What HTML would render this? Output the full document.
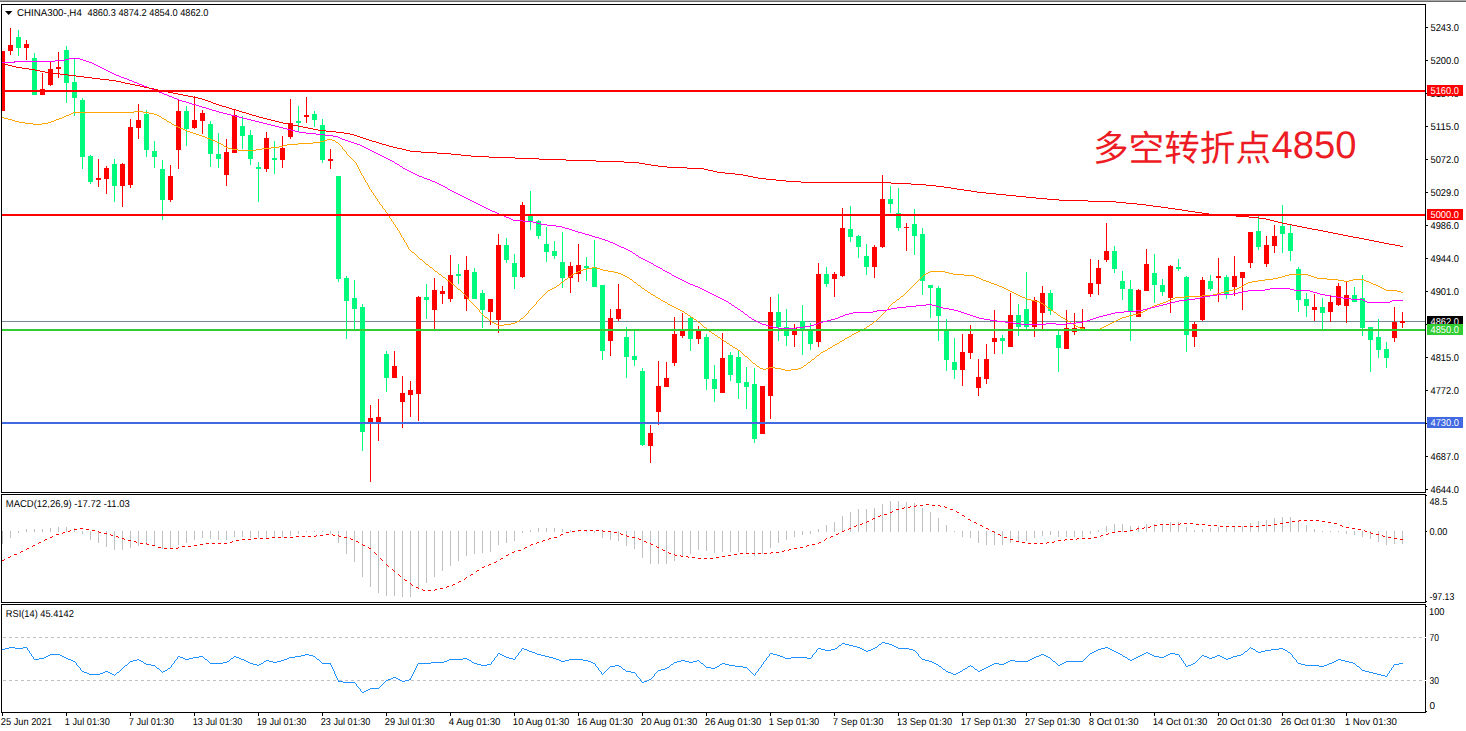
<!DOCTYPE html>
<html><head><meta charset="utf-8"><title>CHINA300-,H4</title>
<style>html,body{margin:0;padding:0;background:#fff;}body{width:1466px;height:731px;overflow:hidden;font-family:"Liberation Sans",sans-serif;}svg{display:block;}text{font-family:"Liberation Sans",sans-serif;text-rendering:geometricPrecision;}</style></head><body>
<svg width="1466" height="731" viewBox="0 0 1466 731">
<rect x="0" y="0" width="1466" height="731" fill="#fff"/>
<g shape-rendering="crispEdges">
<rect x="0" y="0" width="1466" height="1" fill="#A8A8A8"/>
<rect x="0" y="1" width="1466" height="1" fill="#686868"/>
<rect x="2" y="321" width="1423" height="1" fill="#778899"/>
<rect x="2" y="51" width="1" height="60" fill="#FF0000"/>
<rect x="2" y="51" width="3" height="60" fill="#FF0000"/>
<rect x="10" y="28" width="1" height="27" fill="#FF0000"/>
<rect x="8" y="45" width="5" height="6" fill="#FF0000"/>
<rect x="18" y="30" width="1" height="26" fill="#00FA7D"/>
<rect x="16" y="37" width="5" height="11" fill="#00FA7D"/>
<rect x="26" y="40" width="1" height="20" fill="#FF0000"/>
<rect x="24" y="44" width="5" height="4" fill="#FF0000"/>
<rect x="34" y="53" width="1" height="42" fill="#00FA7D"/>
<rect x="32" y="58" width="5" height="37" fill="#00FA7D"/>
<rect x="42" y="73" width="1" height="22" fill="#FF0000"/>
<rect x="40" y="89" width="5" height="6" fill="#FF0000"/>
<rect x="50" y="62" width="1" height="24" fill="#FF0000"/>
<rect x="48" y="69" width="5" height="16" fill="#FF0000"/>
<rect x="58" y="52" width="1" height="26" fill="#FF0000"/>
<rect x="56" y="67" width="5" height="2" fill="#FF0000"/>
<rect x="66" y="46" width="1" height="57" fill="#00FA7D"/>
<rect x="64" y="50" width="5" height="33" fill="#00FA7D"/>
<rect x="74" y="59" width="1" height="57" fill="#00FA7D"/>
<rect x="72" y="82" width="5" height="16" fill="#00FA7D"/>
<rect x="82" y="98" width="1" height="71" fill="#00FA7D"/>
<rect x="80" y="100" width="5" height="57" fill="#00FA7D"/>
<rect x="90" y="155" width="1" height="29" fill="#00FA7D"/>
<rect x="88" y="156" width="5" height="26" fill="#00FA7D"/>
<rect x="98" y="159" width="1" height="28" fill="#FF0000"/>
<rect x="96" y="178" width="5" height="2" fill="#FF0000"/>
<rect x="106" y="166" width="1" height="28" fill="#FF0000"/>
<rect x="104" y="168" width="5" height="11" fill="#FF0000"/>
<rect x="114" y="159" width="1" height="43" fill="#00FA7D"/>
<rect x="112" y="164" width="5" height="22" fill="#00FA7D"/>
<rect x="122" y="163" width="1" height="44" fill="#FF0000"/>
<rect x="120" y="164" width="5" height="22" fill="#FF0000"/>
<rect x="130" y="119" width="1" height="69" fill="#FF0000"/>
<rect x="128" y="127" width="5" height="58" fill="#FF0000"/>
<rect x="138" y="104" width="1" height="35" fill="#FF0000"/>
<rect x="136" y="120" width="5" height="8" fill="#FF0000"/>
<rect x="146" y="110" width="1" height="47" fill="#00FA7D"/>
<rect x="144" y="114" width="5" height="36" fill="#00FA7D"/>
<rect x="154" y="141" width="1" height="27" fill="#00FA7D"/>
<rect x="152" y="151" width="5" height="6" fill="#00FA7D"/>
<rect x="162" y="160" width="1" height="60" fill="#00FA7D"/>
<rect x="160" y="169" width="5" height="31" fill="#00FA7D"/>
<rect x="170" y="165" width="1" height="37" fill="#FF0000"/>
<rect x="168" y="176" width="5" height="24" fill="#FF0000"/>
<rect x="178" y="99" width="1" height="70" fill="#FF0000"/>
<rect x="176" y="111" width="5" height="39" fill="#FF0000"/>
<rect x="186" y="106" width="1" height="40" fill="#00FA7D"/>
<rect x="184" y="111" width="5" height="18" fill="#00FA7D"/>
<rect x="194" y="96" width="1" height="33" fill="#FF0000"/>
<rect x="192" y="120" width="5" height="8" fill="#FF0000"/>
<rect x="202" y="110" width="1" height="24" fill="#FF0000"/>
<rect x="200" y="113" width="5" height="8" fill="#FF0000"/>
<rect x="210" y="121" width="1" height="46" fill="#00FA7D"/>
<rect x="208" y="124" width="5" height="30" fill="#00FA7D"/>
<rect x="218" y="133" width="1" height="35" fill="#00FA7D"/>
<rect x="216" y="154" width="5" height="5" fill="#00FA7D"/>
<rect x="226" y="139" width="1" height="47" fill="#FF0000"/>
<rect x="224" y="152" width="5" height="23" fill="#FF0000"/>
<rect x="234" y="110" width="1" height="43" fill="#FF0000"/>
<rect x="232" y="115" width="5" height="38" fill="#FF0000"/>
<rect x="242" y="116" width="1" height="33" fill="#00FA7D"/>
<rect x="240" y="126" width="5" height="10" fill="#00FA7D"/>
<rect x="250" y="130" width="1" height="35" fill="#00FA7D"/>
<rect x="248" y="135" width="5" height="24" fill="#00FA7D"/>
<rect x="258" y="162" width="1" height="40" fill="#00FA7D"/>
<rect x="256" y="167" width="5" height="2" fill="#00FA7D"/>
<rect x="266" y="132" width="1" height="40" fill="#FF0000"/>
<rect x="264" y="138" width="5" height="31" fill="#FF0000"/>
<rect x="274" y="141" width="1" height="33" fill="#00FA7D"/>
<rect x="272" y="158" width="5" height="2" fill="#00FA7D"/>
<rect x="282" y="136" width="1" height="32" fill="#FF0000"/>
<rect x="280" y="148" width="5" height="12" fill="#FF0000"/>
<rect x="290" y="99" width="1" height="40" fill="#FF0000"/>
<rect x="288" y="123" width="5" height="14" fill="#FF0000"/>
<rect x="298" y="106" width="1" height="25" fill="#00FA7D"/>
<rect x="296" y="121" width="5" height="2" fill="#00FA7D"/>
<rect x="306" y="97" width="1" height="26" fill="#FF0000"/>
<rect x="304" y="115" width="5" height="2" fill="#FF0000"/>
<rect x="314" y="111" width="1" height="16" fill="#00FA7D"/>
<rect x="312" y="114" width="5" height="6" fill="#00FA7D"/>
<rect x="322" y="119" width="1" height="44" fill="#00FA7D"/>
<rect x="320" y="125" width="5" height="35" fill="#00FA7D"/>
<rect x="330" y="149" width="1" height="20" fill="#FF0000"/>
<rect x="328" y="159" width="5" height="2" fill="#FF0000"/>
<rect x="338" y="176" width="1" height="106" fill="#00FA7D"/>
<rect x="336" y="176" width="5" height="103" fill="#00FA7D"/>
<rect x="346" y="276" width="1" height="63" fill="#00FA7D"/>
<rect x="344" y="278" width="5" height="23" fill="#00FA7D"/>
<rect x="354" y="280" width="1" height="50" fill="#00FA7D"/>
<rect x="352" y="298" width="5" height="11" fill="#00FA7D"/>
<rect x="362" y="304" width="1" height="147" fill="#00FA7D"/>
<rect x="360" y="307" width="5" height="125" fill="#00FA7D"/>
<rect x="370" y="405" width="1" height="77" fill="#FF0000"/>
<rect x="368" y="418" width="5" height="5" fill="#FF0000"/>
<rect x="378" y="399" width="1" height="42" fill="#FF0000"/>
<rect x="376" y="417" width="5" height="6" fill="#FF0000"/>
<rect x="386" y="351" width="1" height="41" fill="#00FA7D"/>
<rect x="384" y="354" width="5" height="24" fill="#00FA7D"/>
<rect x="394" y="351" width="1" height="27" fill="#FF0000"/>
<rect x="392" y="366" width="5" height="12" fill="#FF0000"/>
<rect x="402" y="376" width="1" height="52" fill="#FF0000"/>
<rect x="400" y="393" width="5" height="9" fill="#FF0000"/>
<rect x="410" y="381" width="1" height="36" fill="#FF0000"/>
<rect x="408" y="390" width="5" height="5" fill="#FF0000"/>
<rect x="418" y="296" width="1" height="125" fill="#FF0000"/>
<rect x="416" y="297" width="5" height="97" fill="#FF0000"/>
<rect x="426" y="284" width="1" height="35" fill="#00FA7D"/>
<rect x="424" y="297" width="5" height="3" fill="#00FA7D"/>
<rect x="434" y="278" width="1" height="51" fill="#FF0000"/>
<rect x="432" y="290" width="5" height="20" fill="#FF0000"/>
<rect x="442" y="286" width="1" height="18" fill="#FF0000"/>
<rect x="440" y="291" width="5" height="3" fill="#FF0000"/>
<rect x="450" y="255" width="1" height="47" fill="#FF0000"/>
<rect x="448" y="275" width="5" height="24" fill="#FF0000"/>
<rect x="458" y="264" width="1" height="20" fill="#00FA7D"/>
<rect x="456" y="274" width="5" height="2" fill="#00FA7D"/>
<rect x="466" y="256" width="1" height="55" fill="#FF0000"/>
<rect x="464" y="270" width="5" height="29" fill="#FF0000"/>
<rect x="474" y="268" width="1" height="31" fill="#00FA7D"/>
<rect x="472" y="272" width="5" height="27" fill="#00FA7D"/>
<rect x="482" y="290" width="1" height="38" fill="#00FA7D"/>
<rect x="480" y="293" width="5" height="17" fill="#00FA7D"/>
<rect x="490" y="299" width="1" height="26" fill="#FF0000"/>
<rect x="488" y="299" width="5" height="13" fill="#FF0000"/>
<rect x="498" y="234" width="1" height="99" fill="#FF0000"/>
<rect x="496" y="245" width="5" height="75" fill="#FF0000"/>
<rect x="506" y="238" width="1" height="25" fill="#00FA7D"/>
<rect x="504" y="245" width="5" height="15" fill="#00FA7D"/>
<rect x="514" y="254" width="1" height="35" fill="#00FA7D"/>
<rect x="512" y="263" width="5" height="14" fill="#00FA7D"/>
<rect x="522" y="202" width="1" height="76" fill="#FF0000"/>
<rect x="520" y="205" width="5" height="72" fill="#FF0000"/>
<rect x="530" y="191" width="1" height="39" fill="#00FA7D"/>
<rect x="528" y="216" width="5" height="5" fill="#00FA7D"/>
<rect x="538" y="220" width="1" height="19" fill="#00FA7D"/>
<rect x="536" y="221" width="5" height="15" fill="#00FA7D"/>
<rect x="546" y="227" width="1" height="35" fill="#00FA7D"/>
<rect x="544" y="244" width="5" height="8" fill="#00FA7D"/>
<rect x="554" y="241" width="1" height="18" fill="#00FA7D"/>
<rect x="552" y="251" width="5" height="5" fill="#00FA7D"/>
<rect x="562" y="232" width="1" height="56" fill="#00FA7D"/>
<rect x="560" y="262" width="5" height="16" fill="#00FA7D"/>
<rect x="570" y="262" width="1" height="31" fill="#FF0000"/>
<rect x="568" y="266" width="5" height="12" fill="#FF0000"/>
<rect x="578" y="244" width="1" height="38" fill="#FF0000"/>
<rect x="576" y="265" width="5" height="9" fill="#FF0000"/>
<rect x="586" y="257" width="1" height="24" fill="#00FA7D"/>
<rect x="584" y="266" width="5" height="2" fill="#00FA7D"/>
<rect x="594" y="240" width="1" height="47" fill="#00FA7D"/>
<rect x="592" y="267" width="5" height="20" fill="#00FA7D"/>
<rect x="602" y="285" width="1" height="75" fill="#00FA7D"/>
<rect x="600" y="285" width="5" height="66" fill="#00FA7D"/>
<rect x="610" y="309" width="1" height="47" fill="#FF0000"/>
<rect x="608" y="318" width="5" height="23" fill="#FF0000"/>
<rect x="618" y="284" width="1" height="37" fill="#FF0000"/>
<rect x="616" y="309" width="5" height="10" fill="#FF0000"/>
<rect x="626" y="327" width="1" height="51" fill="#00FA7D"/>
<rect x="624" y="337" width="5" height="20" fill="#00FA7D"/>
<rect x="634" y="331" width="1" height="35" fill="#00FA7D"/>
<rect x="632" y="356" width="5" height="4" fill="#00FA7D"/>
<rect x="642" y="368" width="1" height="78" fill="#00FA7D"/>
<rect x="640" y="371" width="5" height="74" fill="#00FA7D"/>
<rect x="650" y="425" width="1" height="38" fill="#FF0000"/>
<rect x="648" y="433" width="5" height="13" fill="#FF0000"/>
<rect x="658" y="361" width="1" height="64" fill="#FF0000"/>
<rect x="656" y="386" width="5" height="26" fill="#FF0000"/>
<rect x="666" y="362" width="1" height="25" fill="#FF0000"/>
<rect x="664" y="378" width="5" height="9" fill="#FF0000"/>
<rect x="674" y="317" width="1" height="49" fill="#FF0000"/>
<rect x="672" y="334" width="5" height="29" fill="#FF0000"/>
<rect x="682" y="313" width="1" height="25" fill="#FF0000"/>
<rect x="680" y="331" width="5" height="5" fill="#FF0000"/>
<rect x="690" y="317" width="1" height="34" fill="#00FA7D"/>
<rect x="688" y="318" width="5" height="21" fill="#00FA7D"/>
<rect x="698" y="326" width="1" height="18" fill="#FF0000"/>
<rect x="696" y="331" width="5" height="8" fill="#FF0000"/>
<rect x="706" y="334" width="1" height="56" fill="#00FA7D"/>
<rect x="704" y="337" width="5" height="42" fill="#00FA7D"/>
<rect x="714" y="365" width="1" height="37" fill="#00FA7D"/>
<rect x="712" y="379" width="5" height="10" fill="#00FA7D"/>
<rect x="722" y="333" width="1" height="60" fill="#FF0000"/>
<rect x="720" y="358" width="5" height="35" fill="#FF0000"/>
<rect x="730" y="352" width="1" height="29" fill="#00FA7D"/>
<rect x="728" y="355" width="5" height="20" fill="#00FA7D"/>
<rect x="738" y="350" width="1" height="49" fill="#00FA7D"/>
<rect x="736" y="357" width="5" height="26" fill="#00FA7D"/>
<rect x="746" y="367" width="1" height="42" fill="#00FA7D"/>
<rect x="744" y="382" width="5" height="5" fill="#00FA7D"/>
<rect x="754" y="368" width="1" height="75" fill="#00FA7D"/>
<rect x="752" y="384" width="5" height="55" fill="#00FA7D"/>
<rect x="762" y="386" width="1" height="48" fill="#FF0000"/>
<rect x="760" y="386" width="5" height="48" fill="#FF0000"/>
<rect x="770" y="297" width="1" height="122" fill="#FF0000"/>
<rect x="768" y="312" width="5" height="84" fill="#FF0000"/>
<rect x="778" y="294" width="1" height="47" fill="#00FA7D"/>
<rect x="776" y="312" width="5" height="15" fill="#00FA7D"/>
<rect x="786" y="309" width="1" height="37" fill="#00FA7D"/>
<rect x="784" y="327" width="5" height="9" fill="#00FA7D"/>
<rect x="794" y="324" width="1" height="23" fill="#FF0000"/>
<rect x="792" y="328" width="5" height="7" fill="#FF0000"/>
<rect x="802" y="305" width="1" height="50" fill="#00FA7D"/>
<rect x="800" y="321" width="5" height="8" fill="#00FA7D"/>
<rect x="810" y="323" width="1" height="27" fill="#00FA7D"/>
<rect x="808" y="331" width="5" height="13" fill="#00FA7D"/>
<rect x="818" y="263" width="1" height="84" fill="#FF0000"/>
<rect x="816" y="274" width="5" height="68" fill="#FF0000"/>
<rect x="826" y="267" width="1" height="20" fill="#00FA7D"/>
<rect x="824" y="274" width="5" height="10" fill="#00FA7D"/>
<rect x="834" y="272" width="1" height="25" fill="#FF0000"/>
<rect x="832" y="274" width="5" height="5" fill="#FF0000"/>
<rect x="842" y="208" width="1" height="69" fill="#FF0000"/>
<rect x="840" y="228" width="5" height="48" fill="#FF0000"/>
<rect x="850" y="206" width="1" height="36" fill="#00FA7D"/>
<rect x="848" y="229" width="5" height="8" fill="#00FA7D"/>
<rect x="858" y="235" width="1" height="23" fill="#00FA7D"/>
<rect x="856" y="236" width="5" height="11" fill="#00FA7D"/>
<rect x="866" y="244" width="1" height="31" fill="#00FA7D"/>
<rect x="864" y="256" width="5" height="11" fill="#00FA7D"/>
<rect x="874" y="245" width="1" height="33" fill="#FF0000"/>
<rect x="872" y="247" width="5" height="20" fill="#FF0000"/>
<rect x="882" y="175" width="1" height="73" fill="#FF0000"/>
<rect x="880" y="199" width="5" height="48" fill="#FF0000"/>
<rect x="890" y="186" width="1" height="27" fill="#00FA7D"/>
<rect x="888" y="199" width="5" height="5" fill="#00FA7D"/>
<rect x="898" y="188" width="1" height="43" fill="#00FA7D"/>
<rect x="896" y="213" width="5" height="15" fill="#00FA7D"/>
<rect x="906" y="223" width="1" height="28" fill="#FF0000"/>
<rect x="904" y="227" width="5" height="1" fill="#FF0000"/>
<rect x="914" y="209" width="1" height="46" fill="#00FA7D"/>
<rect x="912" y="224" width="5" height="12" fill="#00FA7D"/>
<rect x="922" y="228" width="1" height="67" fill="#00FA7D"/>
<rect x="920" y="234" width="5" height="47" fill="#00FA7D"/>
<rect x="930" y="285" width="1" height="33" fill="#00FA7D"/>
<rect x="928" y="285" width="5" height="3" fill="#00FA7D"/>
<rect x="938" y="286" width="1" height="55" fill="#00FA7D"/>
<rect x="936" y="288" width="5" height="28" fill="#00FA7D"/>
<rect x="946" y="319" width="1" height="52" fill="#00FA7D"/>
<rect x="944" y="330" width="5" height="30" fill="#00FA7D"/>
<rect x="954" y="338" width="1" height="41" fill="#00FA7D"/>
<rect x="952" y="362" width="5" height="8" fill="#00FA7D"/>
<rect x="962" y="334" width="1" height="52" fill="#FF0000"/>
<rect x="960" y="352" width="5" height="18" fill="#FF0000"/>
<rect x="970" y="325" width="1" height="34" fill="#FF0000"/>
<rect x="968" y="334" width="5" height="19" fill="#FF0000"/>
<rect x="978" y="359" width="1" height="37" fill="#FF0000"/>
<rect x="976" y="377" width="5" height="11" fill="#FF0000"/>
<rect x="986" y="344" width="1" height="40" fill="#FF0000"/>
<rect x="984" y="359" width="5" height="20" fill="#FF0000"/>
<rect x="994" y="310" width="1" height="44" fill="#FF0000"/>
<rect x="992" y="338" width="5" height="4" fill="#FF0000"/>
<rect x="1002" y="335" width="1" height="19" fill="#00FA7D"/>
<rect x="1000" y="338" width="5" height="3" fill="#00FA7D"/>
<rect x="1010" y="293" width="1" height="54" fill="#FF0000"/>
<rect x="1008" y="315" width="5" height="32" fill="#FF0000"/>
<rect x="1018" y="304" width="1" height="32" fill="#00FA7D"/>
<rect x="1016" y="315" width="5" height="12" fill="#00FA7D"/>
<rect x="1026" y="272" width="1" height="57" fill="#00FA7D"/>
<rect x="1024" y="309" width="5" height="18" fill="#00FA7D"/>
<rect x="1034" y="297" width="1" height="40" fill="#FF0000"/>
<rect x="1032" y="300" width="5" height="27" fill="#FF0000"/>
<rect x="1042" y="286" width="1" height="43" fill="#FF0000"/>
<rect x="1040" y="293" width="5" height="20" fill="#FF0000"/>
<rect x="1050" y="290" width="1" height="25" fill="#00FA7D"/>
<rect x="1048" y="293" width="5" height="18" fill="#00FA7D"/>
<rect x="1058" y="331" width="1" height="41" fill="#00FA7D"/>
<rect x="1056" y="335" width="5" height="13" fill="#00FA7D"/>
<rect x="1066" y="310" width="1" height="39" fill="#FF0000"/>
<rect x="1064" y="328" width="5" height="21" fill="#FF0000"/>
<rect x="1074" y="313" width="1" height="22" fill="#FF0000"/>
<rect x="1072" y="328" width="5" height="4" fill="#FF0000"/>
<rect x="1082" y="309" width="1" height="22" fill="#FF0000"/>
<rect x="1080" y="327" width="5" height="3" fill="#FF0000"/>
<rect x="1090" y="259" width="1" height="38" fill="#FF0000"/>
<rect x="1088" y="283" width="5" height="11" fill="#FF0000"/>
<rect x="1098" y="260" width="1" height="35" fill="#FF0000"/>
<rect x="1096" y="268" width="5" height="16" fill="#FF0000"/>
<rect x="1106" y="223" width="1" height="39" fill="#FF0000"/>
<rect x="1104" y="251" width="5" height="9" fill="#FF0000"/>
<rect x="1114" y="246" width="1" height="27" fill="#00FA7D"/>
<rect x="1112" y="251" width="5" height="18" fill="#00FA7D"/>
<rect x="1122" y="271" width="1" height="29" fill="#00FA7D"/>
<rect x="1120" y="281" width="5" height="8" fill="#00FA7D"/>
<rect x="1130" y="280" width="1" height="61" fill="#00FA7D"/>
<rect x="1128" y="289" width="5" height="22" fill="#00FA7D"/>
<rect x="1138" y="289" width="1" height="28" fill="#FF0000"/>
<rect x="1136" y="290" width="5" height="27" fill="#FF0000"/>
<rect x="1146" y="249" width="1" height="42" fill="#FF0000"/>
<rect x="1144" y="264" width="5" height="27" fill="#FF0000"/>
<rect x="1154" y="254" width="1" height="49" fill="#00FA7D"/>
<rect x="1152" y="273" width="5" height="12" fill="#00FA7D"/>
<rect x="1162" y="279" width="1" height="17" fill="#00FA7D"/>
<rect x="1160" y="285" width="5" height="7" fill="#00FA7D"/>
<rect x="1170" y="265" width="1" height="48" fill="#FF0000"/>
<rect x="1168" y="266" width="5" height="32" fill="#FF0000"/>
<rect x="1178" y="259" width="1" height="12" fill="#00FA7D"/>
<rect x="1176" y="267" width="5" height="2" fill="#00FA7D"/>
<rect x="1186" y="276" width="1" height="76" fill="#00FA7D"/>
<rect x="1184" y="277" width="5" height="58" fill="#00FA7D"/>
<rect x="1194" y="322" width="1" height="25" fill="#FF0000"/>
<rect x="1192" y="324" width="5" height="13" fill="#FF0000"/>
<rect x="1202" y="277" width="1" height="44" fill="#FF0000"/>
<rect x="1200" y="280" width="5" height="40" fill="#FF0000"/>
<rect x="1210" y="275" width="1" height="16" fill="#00FA7D"/>
<rect x="1208" y="281" width="5" height="8" fill="#00FA7D"/>
<rect x="1218" y="258" width="1" height="44" fill="#FF0000"/>
<rect x="1216" y="276" width="5" height="2" fill="#FF0000"/>
<rect x="1226" y="275" width="1" height="24" fill="#00FA7D"/>
<rect x="1224" y="277" width="5" height="17" fill="#00FA7D"/>
<rect x="1234" y="256" width="1" height="40" fill="#FF0000"/>
<rect x="1232" y="276" width="5" height="11" fill="#FF0000"/>
<rect x="1242" y="272" width="1" height="38" fill="#FF0000"/>
<rect x="1240" y="272" width="5" height="6" fill="#FF0000"/>
<rect x="1250" y="232" width="1" height="36" fill="#FF0000"/>
<rect x="1248" y="232" width="5" height="31" fill="#FF0000"/>
<rect x="1258" y="216" width="1" height="34" fill="#00FA7D"/>
<rect x="1256" y="231" width="5" height="16" fill="#00FA7D"/>
<rect x="1266" y="236" width="1" height="31" fill="#FF0000"/>
<rect x="1264" y="245" width="5" height="19" fill="#FF0000"/>
<rect x="1274" y="225" width="1" height="28" fill="#FF0000"/>
<rect x="1272" y="236" width="5" height="10" fill="#FF0000"/>
<rect x="1282" y="205" width="1" height="48" fill="#00FA7D"/>
<rect x="1280" y="226" width="5" height="8" fill="#00FA7D"/>
<rect x="1290" y="225" width="1" height="36" fill="#00FA7D"/>
<rect x="1288" y="233" width="5" height="18" fill="#00FA7D"/>
<rect x="1298" y="267" width="1" height="45" fill="#00FA7D"/>
<rect x="1296" y="269" width="5" height="31" fill="#00FA7D"/>
<rect x="1306" y="293" width="1" height="24" fill="#00FA7D"/>
<rect x="1304" y="299" width="5" height="7" fill="#00FA7D"/>
<rect x="1314" y="294" width="1" height="27" fill="#FF0000"/>
<rect x="1312" y="307" width="5" height="3" fill="#FF0000"/>
<rect x="1322" y="298" width="1" height="31" fill="#00FA7D"/>
<rect x="1320" y="307" width="5" height="6" fill="#00FA7D"/>
<rect x="1330" y="295" width="1" height="27" fill="#FF0000"/>
<rect x="1328" y="302" width="5" height="10" fill="#FF0000"/>
<rect x="1338" y="283" width="1" height="23" fill="#FF0000"/>
<rect x="1336" y="286" width="5" height="19" fill="#FF0000"/>
<rect x="1346" y="281" width="1" height="42" fill="#FF0000"/>
<rect x="1344" y="295" width="5" height="11" fill="#FF0000"/>
<rect x="1354" y="287" width="1" height="15" fill="#00FA7D"/>
<rect x="1352" y="295" width="5" height="7" fill="#00FA7D"/>
<rect x="1362" y="275" width="1" height="61" fill="#00FA7D"/>
<rect x="1360" y="298" width="5" height="30" fill="#00FA7D"/>
<rect x="1370" y="327" width="1" height="45" fill="#00FA7D"/>
<rect x="1368" y="327" width="5" height="13" fill="#00FA7D"/>
<rect x="1378" y="319" width="1" height="39" fill="#00FA7D"/>
<rect x="1376" y="337" width="5" height="13" fill="#00FA7D"/>
<rect x="1386" y="342" width="1" height="26" fill="#00FA7D"/>
<rect x="1384" y="349" width="5" height="9" fill="#00FA7D"/>
<rect x="1394" y="307" width="1" height="35" fill="#FF0000"/>
<rect x="1392" y="322" width="5" height="16" fill="#FF0000"/>
<rect x="1402" y="312" width="1" height="16" fill="#FF0000"/>
<rect x="1400" y="321" width="5" height="2" fill="#FF0000"/>
<rect x="2" y="531" width="1" height="13" fill="#C0C0C0"/>
<rect x="10" y="531" width="1" height="7" fill="#C0C0C0"/>
<rect x="18" y="531" width="1" height="2" fill="#C0C0C0"/>
<rect x="26" y="529" width="1" height="3" fill="#C0C0C0"/>
<rect x="34" y="529" width="1" height="3" fill="#C0C0C0"/>
<rect x="42" y="529" width="1" height="3" fill="#C0C0C0"/>
<rect x="50" y="528" width="1" height="4" fill="#C0C0C0"/>
<rect x="58" y="527" width="1" height="5" fill="#C0C0C0"/>
<rect x="66" y="527" width="1" height="5" fill="#C0C0C0"/>
<rect x="74" y="528" width="1" height="4" fill="#C0C0C0"/>
<rect x="82" y="531" width="1" height="3" fill="#C0C0C0"/>
<rect x="90" y="531" width="1" height="9" fill="#C0C0C0"/>
<rect x="98" y="531" width="1" height="12" fill="#C0C0C0"/>
<rect x="106" y="531" width="1" height="16" fill="#C0C0C0"/>
<rect x="114" y="531" width="1" height="19" fill="#C0C0C0"/>
<rect x="122" y="531" width="1" height="19" fill="#C0C0C0"/>
<rect x="130" y="531" width="1" height="17" fill="#C0C0C0"/>
<rect x="138" y="531" width="1" height="15" fill="#C0C0C0"/>
<rect x="146" y="531" width="1" height="14" fill="#C0C0C0"/>
<rect x="154" y="531" width="1" height="15" fill="#C0C0C0"/>
<rect x="162" y="531" width="1" height="18" fill="#C0C0C0"/>
<rect x="170" y="531" width="1" height="18" fill="#C0C0C0"/>
<rect x="178" y="531" width="1" height="14" fill="#C0C0C0"/>
<rect x="186" y="531" width="1" height="12" fill="#C0C0C0"/>
<rect x="194" y="531" width="1" height="9" fill="#C0C0C0"/>
<rect x="202" y="531" width="1" height="7" fill="#C0C0C0"/>
<rect x="210" y="531" width="1" height="8" fill="#C0C0C0"/>
<rect x="218" y="531" width="1" height="9" fill="#C0C0C0"/>
<rect x="226" y="531" width="1" height="9" fill="#C0C0C0"/>
<rect x="234" y="531" width="1" height="6" fill="#C0C0C0"/>
<rect x="242" y="531" width="1" height="6" fill="#C0C0C0"/>
<rect x="250" y="531" width="1" height="7" fill="#C0C0C0"/>
<rect x="258" y="531" width="1" height="7" fill="#C0C0C0"/>
<rect x="266" y="531" width="1" height="7" fill="#C0C0C0"/>
<rect x="274" y="531" width="1" height="7" fill="#C0C0C0"/>
<rect x="282" y="531" width="1" height="6" fill="#C0C0C0"/>
<rect x="290" y="531" width="1" height="5" fill="#C0C0C0"/>
<rect x="298" y="531" width="1" height="3" fill="#C0C0C0"/>
<rect x="306" y="531" width="1" height="1" fill="#C0C0C0"/>
<rect x="314" y="531" width="1" height="1" fill="#C0C0C0"/>
<rect x="322" y="531" width="1" height="1" fill="#C0C0C0"/>
<rect x="330" y="531" width="1" height="3" fill="#C0C0C0"/>
<rect x="338" y="531" width="1" height="12" fill="#C0C0C0"/>
<rect x="346" y="531" width="1" height="23" fill="#C0C0C0"/>
<rect x="354" y="531" width="1" height="31" fill="#C0C0C0"/>
<rect x="362" y="531" width="1" height="46" fill="#C0C0C0"/>
<rect x="370" y="531" width="1" height="56" fill="#C0C0C0"/>
<rect x="378" y="531" width="1" height="62" fill="#C0C0C0"/>
<rect x="386" y="531" width="1" height="65" fill="#C0C0C0"/>
<rect x="394" y="531" width="1" height="65" fill="#C0C0C0"/>
<rect x="402" y="531" width="1" height="66" fill="#C0C0C0"/>
<rect x="410" y="531" width="1" height="66" fill="#C0C0C0"/>
<rect x="418" y="531" width="1" height="58" fill="#C0C0C0"/>
<rect x="426" y="531" width="1" height="52" fill="#C0C0C0"/>
<rect x="434" y="531" width="1" height="46" fill="#C0C0C0"/>
<rect x="442" y="531" width="1" height="40" fill="#C0C0C0"/>
<rect x="450" y="531" width="1" height="35" fill="#C0C0C0"/>
<rect x="458" y="531" width="1" height="30" fill="#C0C0C0"/>
<rect x="466" y="531" width="1" height="25" fill="#C0C0C0"/>
<rect x="474" y="531" width="1" height="23" fill="#C0C0C0"/>
<rect x="482" y="531" width="1" height="22" fill="#C0C0C0"/>
<rect x="490" y="531" width="1" height="21" fill="#C0C0C0"/>
<rect x="498" y="531" width="1" height="14" fill="#C0C0C0"/>
<rect x="506" y="531" width="1" height="12" fill="#C0C0C0"/>
<rect x="514" y="531" width="1" height="10" fill="#C0C0C0"/>
<rect x="522" y="531" width="1" height="2" fill="#C0C0C0"/>
<rect x="530" y="530" width="1" height="2" fill="#C0C0C0"/>
<rect x="538" y="528" width="1" height="4" fill="#C0C0C0"/>
<rect x="546" y="528" width="1" height="4" fill="#C0C0C0"/>
<rect x="554" y="528" width="1" height="4" fill="#C0C0C0"/>
<rect x="562" y="529" width="1" height="3" fill="#C0C0C0"/>
<rect x="570" y="530" width="1" height="2" fill="#C0C0C0"/>
<rect x="578" y="530" width="1" height="2" fill="#C0C0C0"/>
<rect x="586" y="531" width="1" height="1" fill="#C0C0C0"/>
<rect x="594" y="531" width="1" height="2" fill="#C0C0C0"/>
<rect x="602" y="531" width="1" height="7" fill="#C0C0C0"/>
<rect x="610" y="531" width="1" height="9" fill="#C0C0C0"/>
<rect x="618" y="531" width="1" height="10" fill="#C0C0C0"/>
<rect x="626" y="531" width="1" height="15" fill="#C0C0C0"/>
<rect x="634" y="531" width="1" height="18" fill="#C0C0C0"/>
<rect x="642" y="531" width="1" height="27" fill="#C0C0C0"/>
<rect x="650" y="531" width="1" height="33" fill="#C0C0C0"/>
<rect x="658" y="531" width="1" height="33" fill="#C0C0C0"/>
<rect x="666" y="531" width="1" height="33" fill="#C0C0C0"/>
<rect x="674" y="531" width="1" height="30" fill="#C0C0C0"/>
<rect x="682" y="531" width="1" height="26" fill="#C0C0C0"/>
<rect x="690" y="531" width="1" height="23" fill="#C0C0C0"/>
<rect x="698" y="531" width="1" height="19" fill="#C0C0C0"/>
<rect x="706" y="531" width="1" height="20" fill="#C0C0C0"/>
<rect x="714" y="531" width="1" height="22" fill="#C0C0C0"/>
<rect x="722" y="531" width="1" height="21" fill="#C0C0C0"/>
<rect x="730" y="531" width="1" height="21" fill="#C0C0C0"/>
<rect x="738" y="531" width="1" height="21" fill="#C0C0C0"/>
<rect x="746" y="531" width="1" height="22" fill="#C0C0C0"/>
<rect x="754" y="531" width="1" height="25" fill="#C0C0C0"/>
<rect x="762" y="531" width="1" height="23" fill="#C0C0C0"/>
<rect x="770" y="531" width="1" height="17" fill="#C0C0C0"/>
<rect x="778" y="531" width="1" height="12" fill="#C0C0C0"/>
<rect x="786" y="531" width="1" height="9" fill="#C0C0C0"/>
<rect x="794" y="531" width="1" height="6" fill="#C0C0C0"/>
<rect x="802" y="531" width="1" height="4" fill="#C0C0C0"/>
<rect x="810" y="531" width="1" height="3" fill="#C0C0C0"/>
<rect x="818" y="529" width="1" height="3" fill="#C0C0C0"/>
<rect x="826" y="525" width="1" height="7" fill="#C0C0C0"/>
<rect x="834" y="522" width="1" height="10" fill="#C0C0C0"/>
<rect x="842" y="516" width="1" height="16" fill="#C0C0C0"/>
<rect x="850" y="512" width="1" height="20" fill="#C0C0C0"/>
<rect x="858" y="509" width="1" height="23" fill="#C0C0C0"/>
<rect x="866" y="509" width="1" height="23" fill="#C0C0C0"/>
<rect x="874" y="508" width="1" height="24" fill="#C0C0C0"/>
<rect x="882" y="504" width="1" height="28" fill="#C0C0C0"/>
<rect x="890" y="501" width="1" height="31" fill="#C0C0C0"/>
<rect x="898" y="501" width="1" height="31" fill="#C0C0C0"/>
<rect x="906" y="502" width="1" height="30" fill="#C0C0C0"/>
<rect x="914" y="503" width="1" height="29" fill="#C0C0C0"/>
<rect x="922" y="508" width="1" height="24" fill="#C0C0C0"/>
<rect x="930" y="512" width="1" height="20" fill="#C0C0C0"/>
<rect x="938" y="518" width="1" height="14" fill="#C0C0C0"/>
<rect x="946" y="525" width="1" height="7" fill="#C0C0C0"/>
<rect x="954" y="531" width="1" height="1" fill="#C0C0C0"/>
<rect x="962" y="531" width="1" height="6" fill="#C0C0C0"/>
<rect x="970" y="531" width="1" height="7" fill="#C0C0C0"/>
<rect x="978" y="531" width="1" height="12" fill="#C0C0C0"/>
<rect x="986" y="531" width="1" height="14" fill="#C0C0C0"/>
<rect x="994" y="531" width="1" height="14" fill="#C0C0C0"/>
<rect x="1002" y="531" width="1" height="14" fill="#C0C0C0"/>
<rect x="1010" y="531" width="1" height="12" fill="#C0C0C0"/>
<rect x="1018" y="531" width="1" height="11" fill="#C0C0C0"/>
<rect x="1026" y="531" width="1" height="10" fill="#C0C0C0"/>
<rect x="1034" y="531" width="1" height="7" fill="#C0C0C0"/>
<rect x="1042" y="531" width="1" height="5" fill="#C0C0C0"/>
<rect x="1050" y="531" width="1" height="4" fill="#C0C0C0"/>
<rect x="1058" y="531" width="1" height="6" fill="#C0C0C0"/>
<rect x="1066" y="531" width="1" height="6" fill="#C0C0C0"/>
<rect x="1074" y="531" width="1" height="6" fill="#C0C0C0"/>
<rect x="1082" y="531" width="1" height="6" fill="#C0C0C0"/>
<rect x="1090" y="531" width="1" height="3" fill="#C0C0C0"/>
<rect x="1098" y="530" width="1" height="2" fill="#C0C0C0"/>
<rect x="1106" y="526" width="1" height="6" fill="#C0C0C0"/>
<rect x="1114" y="524" width="1" height="8" fill="#C0C0C0"/>
<rect x="1122" y="524" width="1" height="8" fill="#C0C0C0"/>
<rect x="1130" y="526" width="1" height="6" fill="#C0C0C0"/>
<rect x="1138" y="526" width="1" height="6" fill="#C0C0C0"/>
<rect x="1146" y="524" width="1" height="8" fill="#C0C0C0"/>
<rect x="1154" y="524" width="1" height="8" fill="#C0C0C0"/>
<rect x="1162" y="524" width="1" height="8" fill="#C0C0C0"/>
<rect x="1170" y="522" width="1" height="10" fill="#C0C0C0"/>
<rect x="1178" y="522" width="1" height="10" fill="#C0C0C0"/>
<rect x="1186" y="527" width="1" height="5" fill="#C0C0C0"/>
<rect x="1194" y="530" width="1" height="2" fill="#C0C0C0"/>
<rect x="1202" y="529" width="1" height="3" fill="#C0C0C0"/>
<rect x="1210" y="528" width="1" height="4" fill="#C0C0C0"/>
<rect x="1218" y="527" width="1" height="5" fill="#C0C0C0"/>
<rect x="1226" y="527" width="1" height="5" fill="#C0C0C0"/>
<rect x="1234" y="526" width="1" height="6" fill="#C0C0C0"/>
<rect x="1242" y="526" width="1" height="6" fill="#C0C0C0"/>
<rect x="1250" y="523" width="1" height="9" fill="#C0C0C0"/>
<rect x="1258" y="521" width="1" height="11" fill="#C0C0C0"/>
<rect x="1266" y="520" width="1" height="12" fill="#C0C0C0"/>
<rect x="1274" y="518" width="1" height="14" fill="#C0C0C0"/>
<rect x="1282" y="517" width="1" height="15" fill="#C0C0C0"/>
<rect x="1290" y="517" width="1" height="15" fill="#C0C0C0"/>
<rect x="1298" y="520" width="1" height="12" fill="#C0C0C0"/>
<rect x="1306" y="525" width="1" height="7" fill="#C0C0C0"/>
<rect x="1314" y="529" width="1" height="3" fill="#C0C0C0"/>
<rect x="1322" y="531" width="1" height="1" fill="#C0C0C0"/>
<rect x="1330" y="531" width="1" height="1" fill="#C0C0C0"/>
<rect x="1338" y="531" width="1" height="1" fill="#C0C0C0"/>
<rect x="1346" y="531" width="1" height="3" fill="#C0C0C0"/>
<rect x="1354" y="531" width="1" height="4" fill="#C0C0C0"/>
<rect x="1362" y="531" width="1" height="6" fill="#C0C0C0"/>
<rect x="1370" y="531" width="1" height="8" fill="#C0C0C0"/>
<rect x="1378" y="531" width="1" height="11" fill="#C0C0C0"/>
<rect x="1386" y="531" width="1" height="14" fill="#C0C0C0"/>
<rect x="1394" y="531" width="1" height="13" fill="#C0C0C0"/>
<rect x="1402" y="531" width="1" height="13" fill="#C0C0C0"/>
</g>
<g shape-rendering="crispEdges">
<line x1="2" y1="637.5" x2="1425" y2="637.5" stroke="#C0C0C0" stroke-width="1" stroke-dasharray="3 3" stroke-dashoffset="-1"/>
<line x1="2" y1="680.5" x2="1425" y2="680.5" stroke="#C0C0C0" stroke-width="1" stroke-dasharray="3 3" stroke-dashoffset="-1"/>
</g>
<path d="M134 111.5h9M73 112.5h61M143 112.5h6M71 113.5h2M149 113.5h5M69 114.5h2M154 114.5h3M66 115.5h3M157 115.5h2M64 116.5h2M159 116.5h2M2 117.5h2M62 117.5h2M161 117.5h1M4 118.5h4M59 118.5h3M162 118.5h2M8 119.5h4M56 119.5h3M164 119.5h2M12 120.5h3M54 120.5h2M166 120.5h1M15 121.5h4M51 121.5h3M167 121.5h2M19 122.5h6M48 122.5h3M169 122.5h2M25 123.5h8M42 123.5h6M171 123.5h1M33 124.5h9M172 124.5h2M174 125.5h2M176 126.5h2M178 127.5h2M180 128.5h3M183 129.5h2M185 130.5h2M187 131.5h3M190 132.5h3M193 133.5h3M196 134.5h3M199 135.5h3M202 136.5h3M205 137.5h2M207 138.5h3M210 139.5h2M327 139.5h5M212 140.5h3M324 140.5h3M332 140.5h3M215 141.5h2M320 141.5h4M335 141.5h1M217 142.5h2M313 142.5h7M336 142.5h2M219 143.5h2M298 143.5h15M338 143.5h1M221 144.5h2M287 144.5h11M339 144.5h1M223 145.5h1M283 145.5h4M340 145.5h1M224 146.5h2M279 146.5h4M341 146.5h1M226 147.5h2M271 147.5h8M342 147.5h1M228 148.5h4M262 148.5h9M342 148.5h1M232 149.5h6M256 149.5h6M343 149.5h1M238 150.5h18M344 150.5h1M345 151.5h1M346 152.5h1M346 153.5h1M347 154.5h1M348 155.5h1M349 156.5h1M350 157.5h1M351 158.5h1M352 159.5h1M353 160.5h1M354 161.5h1M355 162.5h1M356 163.5h1M356 164.5h1M357 165.5h1M357 166.5h1M358 167.5h1M358 168.5h1M359 169.5h1M359 170.5h1M360 171.5h1M360 172.5h1M361 173.5h1M361 174.5h1M362 175.5h1M363 176.5h1M363 177.5h1M364 178.5h1M364 179.5h1M365 180.5h1M365 181.5h1M366 182.5h1M367 183.5h1M367 184.5h1M368 185.5h1M368 186.5h1M369 187.5h1M369 188.5h1M370 189.5h1M371 190.5h1M371 191.5h1M372 192.5h1M373 193.5h1M373 194.5h1M374 195.5h1M375 196.5h1M375 197.5h1M376 198.5h1M377 199.5h1M377 200.5h1M378 201.5h1M379 202.5h1M379 203.5h1M380 204.5h1M381 205.5h1M382 206.5h1M382 207.5h1M383 208.5h1M384 209.5h1M385 210.5h1M385 211.5h1M386 212.5h1M387 213.5h1M387 214.5h1M388 215.5h1M389 216.5h1M389 217.5h1M390 218.5h1M391 219.5h1M391 220.5h1M392 221.5h1M393 222.5h1M393 223.5h1M394 224.5h1M395 225.5h1M395 226.5h1M396 227.5h1M397 228.5h1M397 229.5h1M398 230.5h1M399 231.5h1M399 232.5h1M400 233.5h1M400 234.5h1M401 235.5h1M401 236.5h1M402 237.5h1M403 238.5h1M403 239.5h1M404 240.5h1M404 241.5h1M405 242.5h1M406 243.5h1M406 244.5h1M407 245.5h1M407 246.5h1M408 247.5h1M408 248.5h1M409 249.5h1M410 250.5h1M411 251.5h1M412 252.5h2M414 253.5h1M415 254.5h1M416 255.5h1M417 256.5h1M418 257.5h1M419 258.5h1M420 259.5h2M422 260.5h1M423 261.5h1M424 262.5h1M425 263.5h1M426 264.5h2M428 265.5h1M429 266.5h1M430 267.5h2M592 267.5h4M432 268.5h1M587 268.5h5M596 268.5h4M433 269.5h1M583 269.5h4M600 269.5h3M434 270.5h1M580 270.5h3M603 270.5h5M435 271.5h2M578 271.5h2M608 271.5h6M930 271.5h15M437 272.5h1M576 272.5h2M614 272.5h4M928 272.5h2M945 272.5h4M438 273.5h1M574 273.5h2M618 273.5h3M926 273.5h2M949 273.5h4M439 274.5h2M572 274.5h2M621 274.5h2M924 274.5h2M953 274.5h11M1289 274.5h19M441 275.5h1M571 275.5h1M623 275.5h2M923 275.5h1M964 275.5h10M1285 275.5h4M1308 275.5h3M442 276.5h1M569 276.5h2M625 276.5h2M922 276.5h1M974 276.5h2M1282 276.5h3M1311 276.5h3M443 277.5h2M568 277.5h1M627 277.5h2M921 277.5h1M976 277.5h3M1278 277.5h4M1314 277.5h3M445 278.5h1M567 278.5h1M629 278.5h1M920 278.5h1M979 278.5h2M1273 278.5h5M1317 278.5h10M446 279.5h1M565 279.5h2M630 279.5h2M919 279.5h1M981 279.5h2M1265 279.5h8M1327 279.5h11M1353 279.5h11M447 280.5h2M564 280.5h1M632 280.5h1M918 280.5h1M983 280.5h3M1258 280.5h7M1338 280.5h6M1349 280.5h4M1364 280.5h2M449 281.5h1M563 281.5h1M633 281.5h1M917 281.5h1M986 281.5h3M1252 281.5h6M1344 281.5h5M1366 281.5h3M450 282.5h1M561 282.5h2M634 282.5h2M916 282.5h1M989 282.5h2M1248 282.5h4M1369 282.5h2M451 283.5h1M560 283.5h1M636 283.5h1M915 283.5h1M991 283.5h3M1246 283.5h2M1371 283.5h2M452 284.5h2M559 284.5h1M637 284.5h1M914 284.5h1M994 284.5h3M1244 284.5h2M1373 284.5h3M454 285.5h1M557 285.5h2M638 285.5h2M913 285.5h1M997 285.5h2M1243 285.5h1M1376 285.5h2M455 286.5h1M556 286.5h1M640 286.5h1M912 286.5h1M999 286.5h3M1241 286.5h2M1378 286.5h2M456 287.5h1M554 287.5h2M641 287.5h1M911 287.5h1M1002 287.5h2M1239 287.5h2M1380 287.5h2M457 288.5h1M552 288.5h2M642 288.5h2M910 288.5h1M1004 288.5h2M1237 288.5h2M1382 288.5h2M458 289.5h2M550 289.5h2M644 289.5h1M909 289.5h1M1006 289.5h2M1233 289.5h4M1384 289.5h2M460 290.5h1M548 290.5h2M645 290.5h2M908 290.5h1M1008 290.5h2M1229 290.5h4M1386 290.5h11M461 291.5h1M547 291.5h1M647 291.5h1M907 291.5h1M1010 291.5h2M1225 291.5h4M1397 291.5h4M462 292.5h1M546 292.5h1M648 292.5h2M906 292.5h1M1012 292.5h2M1221 292.5h4M1401 292.5h2M463 293.5h1M545 293.5h1M650 293.5h1M905 293.5h1M1014 293.5h2M1217 293.5h4M464 294.5h1M544 294.5h1M651 294.5h2M904 294.5h1M1016 294.5h2M1213 294.5h4M465 295.5h1M543 295.5h1M653 295.5h2M903 295.5h1M1018 295.5h2M1202 295.5h11M466 296.5h1M542 296.5h1M655 296.5h1M901 296.5h2M1020 296.5h2M1185 296.5h17M467 297.5h1M541 297.5h1M656 297.5h2M900 297.5h1M1022 297.5h3M1175 297.5h10M468 298.5h1M540 298.5h1M658 298.5h2M899 298.5h1M1025 298.5h2M1173 298.5h2M468 299.5h1M539 299.5h1M660 299.5h1M897 299.5h2M1027 299.5h4M1171 299.5h2M469 300.5h1M538 300.5h1M661 300.5h2M896 300.5h1M1031 300.5h4M1168 300.5h3M470 301.5h1M537 301.5h1M663 301.5h2M895 301.5h1M1035 301.5h4M1166 301.5h2M471 302.5h1M536 302.5h1M665 302.5h2M893 302.5h2M1039 302.5h2M1163 302.5h3M472 303.5h1M536 303.5h1M667 303.5h1M892 303.5h1M1041 303.5h2M1160 303.5h3M473 304.5h1M535 304.5h1M668 304.5h2M891 304.5h1M1043 304.5h1M1157 304.5h3M474 305.5h1M534 305.5h1M670 305.5h2M890 305.5h1M1044 305.5h2M1154 305.5h3M475 306.5h1M533 306.5h1M672 306.5h2M889 306.5h1M1046 306.5h1M1152 306.5h2M476 307.5h1M532 307.5h1M674 307.5h2M888 307.5h1M1047 307.5h1M1150 307.5h2M477 308.5h1M531 308.5h1M676 308.5h2M888 308.5h1M1048 308.5h2M1148 308.5h2M478 309.5h1M530 309.5h1M678 309.5h2M887 309.5h1M1050 309.5h1M1147 309.5h1M479 310.5h1M529 310.5h1M680 310.5h2M886 310.5h1M1051 310.5h2M1145 310.5h2M479 311.5h1M528 311.5h1M682 311.5h2M885 311.5h1M1053 311.5h1M1143 311.5h2M480 312.5h1M528 312.5h1M684 312.5h1M884 312.5h1M1054 312.5h2M1141 312.5h2M481 313.5h1M527 313.5h1M685 313.5h2M883 313.5h1M1056 313.5h1M1138 313.5h3M482 314.5h1M526 314.5h1M687 314.5h1M882 314.5h1M1057 314.5h1M1133 314.5h5M483 315.5h1M525 315.5h1M688 315.5h2M881 315.5h1M1058 315.5h2M1129 315.5h4M484 316.5h1M524 316.5h1M690 316.5h1M880 316.5h1M1060 316.5h1M1126 316.5h3M485 317.5h2M523 317.5h1M691 317.5h2M879 317.5h1M1061 317.5h2M1122 317.5h4M487 318.5h1M521 318.5h2M693 318.5h1M878 318.5h1M1063 318.5h2M1120 318.5h2M488 319.5h1M520 319.5h1M694 319.5h2M877 319.5h1M1065 319.5h1M1118 319.5h2M489 320.5h2M519 320.5h1M696 320.5h1M876 320.5h1M1066 320.5h2M1116 320.5h2M491 321.5h1M517 321.5h2M697 321.5h1M874 321.5h2M1068 321.5h2M1114 321.5h2M492 322.5h2M515 322.5h2M698 322.5h2M873 322.5h1M1070 322.5h1M1112 322.5h2M494 323.5h2M511 323.5h4M700 323.5h1M872 323.5h1M1071 323.5h2M1110 323.5h2M496 324.5h2M504 324.5h7M701 324.5h1M870 324.5h2M1073 324.5h2M1108 324.5h2M498 325.5h6M702 325.5h1M869 325.5h1M1075 325.5h1M1106 325.5h2M703 326.5h1M867 326.5h2M1076 326.5h2M1104 326.5h2M704 327.5h2M866 327.5h1M1078 327.5h2M1102 327.5h2M706 328.5h1M864 328.5h2M1080 328.5h4M1100 328.5h2M707 329.5h1M862 329.5h2M1084 329.5h16M708 330.5h1M860 330.5h2M709 331.5h2M858 331.5h2M711 332.5h1M856 332.5h2M712 333.5h2M854 333.5h2M714 334.5h1M852 334.5h2M715 335.5h2M851 335.5h1M717 336.5h1M849 336.5h2M718 337.5h2M847 337.5h2M720 338.5h1M845 338.5h2M721 339.5h2M844 339.5h1M723 340.5h1M842 340.5h2M724 341.5h2M840 341.5h2M726 342.5h1M839 342.5h1M727 343.5h2M837 343.5h2M729 344.5h1M835 344.5h2M730 345.5h2M833 345.5h2M732 346.5h1M832 346.5h1M733 347.5h2M830 347.5h2M735 348.5h2M828 348.5h2M737 349.5h1M827 349.5h1M738 350.5h2M825 350.5h2M740 351.5h1M823 351.5h2M741 352.5h1M821 352.5h2M742 353.5h1M820 353.5h1M743 354.5h1M819 354.5h1M744 355.5h1M817 355.5h2M745 356.5h2M816 356.5h1M747 357.5h1M815 357.5h1M748 358.5h1M814 358.5h1M749 359.5h1M812 359.5h2M750 360.5h1M811 360.5h1M751 361.5h1M810 361.5h1M752 362.5h1M808 362.5h2M753 363.5h2M807 363.5h1M755 364.5h1M806 364.5h1M756 365.5h1M804 365.5h2M757 366.5h2M803 366.5h1M759 367.5h1M769 367.5h6M801 367.5h2M760 368.5h3M766 368.5h3M775 368.5h6M798 368.5h3M763 369.5h3M781 369.5h4M791 369.5h7M785 370.5h6" fill="none" stroke="#FFA500" stroke-width="1" shape-rendering="crispEdges"/>
<path d="M69 58.5h11M65 59.5h4M80 59.5h3M55 60.5h10M83 60.5h3M14 61.5h41M86 61.5h3M2 62.5h13M89 62.5h3M92 63.5h2M94 64.5h2M96 65.5h2M98 66.5h2M100 67.5h2M102 68.5h2M104 69.5h2M106 70.5h2M108 71.5h2M110 72.5h2M112 73.5h2M114 74.5h2M116 75.5h3M119 76.5h2M121 77.5h3M124 78.5h3M127 79.5h2M129 80.5h3M132 81.5h2M134 82.5h3M137 83.5h2M139 84.5h3M142 85.5h2M144 86.5h3M147 87.5h2M149 88.5h3M152 89.5h2M154 90.5h3M157 91.5h2M159 92.5h3M162 93.5h2M164 94.5h3M167 95.5h2M169 96.5h3M172 97.5h2M174 98.5h3M177 99.5h2M179 100.5h3M182 101.5h4M186 102.5h3M189 103.5h3M192 104.5h4M196 105.5h3M199 106.5h3M202 107.5h4M206 108.5h3M209 109.5h3M212 110.5h4M216 111.5h3M219 112.5h4M223 113.5h4M227 114.5h4M231 115.5h4M235 116.5h4M239 117.5h4M243 118.5h4M247 119.5h4M251 120.5h4M255 121.5h4M259 122.5h4M263 123.5h4M267 124.5h4M271 125.5h4M275 126.5h4M279 127.5h4M283 128.5h4M287 129.5h4M291 130.5h4M295 131.5h4M299 132.5h7M306 133.5h10M316 134.5h9M325 135.5h8M333 136.5h5M338 137.5h2M340 138.5h2M342 139.5h3M345 140.5h3M348 141.5h3M351 142.5h3M354 143.5h3M357 144.5h3M360 145.5h2M362 146.5h2M364 147.5h2M366 148.5h2M368 149.5h2M370 150.5h2M372 151.5h2M374 152.5h2M376 153.5h2M378 154.5h2M380 155.5h2M382 156.5h2M384 157.5h2M386 158.5h2M388 159.5h2M390 160.5h2M392 161.5h2M394 162.5h1M395 163.5h2M397 164.5h2M399 165.5h1M400 166.5h2M402 167.5h1M403 168.5h2M405 169.5h2M407 170.5h2M409 171.5h2M411 172.5h2M413 173.5h2M415 174.5h2M417 175.5h2M419 176.5h3M422 177.5h2M424 178.5h3M427 179.5h3M430 180.5h2M432 181.5h3M435 182.5h2M437 183.5h2M439 184.5h2M441 185.5h2M443 186.5h2M445 187.5h2M447 188.5h1M448 189.5h2M450 190.5h2M452 191.5h2M454 192.5h2M456 193.5h2M458 194.5h2M460 195.5h2M462 196.5h2M464 197.5h2M466 198.5h2M468 199.5h2M470 200.5h2M472 201.5h2M474 202.5h2M476 203.5h2M478 204.5h2M480 205.5h2M482 206.5h2M484 207.5h2M486 208.5h2M488 209.5h2M490 210.5h2M492 211.5h3M495 212.5h2M497 213.5h2M499 214.5h3M502 215.5h2M504 216.5h2M506 217.5h3M509 218.5h2M511 219.5h2M513 220.5h10M523 221.5h10M533 222.5h4M537 223.5h4M541 224.5h6M547 225.5h9M556 226.5h6M562 227.5h3M565 228.5h4M569 229.5h3M572 230.5h3M575 231.5h3M578 232.5h4M582 233.5h3M585 234.5h4M589 235.5h3M592 236.5h3M595 237.5h4M599 238.5h3M602 239.5h3M605 240.5h3M608 241.5h2M610 242.5h3M613 243.5h2M615 244.5h2M617 245.5h2M619 246.5h2M621 247.5h3M624 248.5h2M626 249.5h2M628 250.5h2M630 251.5h2M632 252.5h1M633 253.5h2M635 254.5h1M636 255.5h2M638 256.5h1M639 257.5h2M641 258.5h2M643 259.5h2M645 260.5h2M647 261.5h2M649 262.5h2M651 263.5h2M653 264.5h1M654 265.5h2M656 266.5h2M658 267.5h2M660 268.5h2M662 269.5h1M663 270.5h2M665 271.5h2M667 272.5h2M669 273.5h2M671 274.5h1M672 275.5h2M674 276.5h2M676 277.5h2M678 278.5h2M680 279.5h2M682 280.5h2M684 281.5h2M686 282.5h2M688 283.5h2M690 284.5h3M693 285.5h2M695 286.5h3M698 287.5h2M700 288.5h2M1270 288.5h20M702 289.5h2M1265 289.5h5M1290 289.5h4M704 290.5h2M1248 290.5h17M1294 290.5h16M706 291.5h2M1243 291.5h5M1310 291.5h3M708 292.5h2M1238 292.5h5M1313 292.5h4M710 293.5h2M1233 293.5h5M1317 293.5h3M712 294.5h2M1217 294.5h16M1320 294.5h5M714 295.5h2M1210 295.5h7M1325 295.5h6M716 296.5h2M1204 296.5h6M1331 296.5h6M718 297.5h2M1200 297.5h4M1337 297.5h6M720 298.5h2M1195 298.5h5M1343 298.5h8M722 299.5h2M1187 299.5h8M1351 299.5h12M724 300.5h2M1179 300.5h8M1363 300.5h2M1392 300.5h11M726 301.5h2M1175 301.5h4M1365 301.5h2M1390 301.5h2M728 302.5h1M1171 302.5h4M1367 302.5h23M729 303.5h2M1167 303.5h4M731 304.5h1M926 304.5h6M1163 304.5h4M732 305.5h2M916 305.5h10M932 305.5h4M1159 305.5h4M734 306.5h1M906 306.5h10M936 306.5h3M1155 306.5h4M735 307.5h2M897 307.5h9M939 307.5h4M1151 307.5h4M737 308.5h1M891 308.5h6M943 308.5h6M1147 308.5h4M738 309.5h2M887 309.5h4M949 309.5h5M1143 309.5h4M740 310.5h1M877 310.5h10M954 310.5h4M1136 310.5h7M741 311.5h2M873 311.5h4M958 311.5h3M1124 311.5h12M743 312.5h1M853 312.5h20M961 312.5h3M1115 312.5h9M744 313.5h1M849 313.5h4M964 313.5h3M1111 313.5h4M745 314.5h2M845 314.5h4M967 314.5h3M1107 314.5h4M747 315.5h1M843 315.5h2M970 315.5h3M1103 315.5h4M748 316.5h1M840 316.5h3M973 316.5h3M1099 316.5h4M749 317.5h2M838 317.5h2M976 317.5h3M1096 317.5h3M751 318.5h1M835 318.5h3M979 318.5h5M1093 318.5h3M752 319.5h2M831 319.5h4M984 319.5h6M1090 319.5h3M754 320.5h2M827 320.5h4M990 320.5h7M1087 320.5h3M756 321.5h2M823 321.5h4M997 321.5h8M1083 321.5h4M758 322.5h2M819 322.5h4M1005 322.5h8M1076 322.5h7M760 323.5h2M817 323.5h2M1013 323.5h8M1046 323.5h10M1066 323.5h10M762 324.5h4M814 324.5h3M1021 324.5h25M1056 324.5h10M766 325.5h3M810 325.5h4M769 326.5h4M804 326.5h6M773 327.5h5M796 327.5h8M778 328.5h18" fill="none" stroke="#FF00FF" stroke-width="1" shape-rendering="crispEdges"/>
<path d="M2 64.5h6M8 65.5h4M12 66.5h4M16 67.5h6M22 68.5h7M29 69.5h6M35 70.5h5M40 71.5h5M45 72.5h7M52 73.5h8M60 74.5h8M68 75.5h8M76 76.5h8M84 77.5h8M92 78.5h8M100 79.5h9M109 80.5h7M116 81.5h5M121 82.5h4M125 83.5h5M130 84.5h5M135 85.5h5M140 86.5h4M144 87.5h5M149 88.5h5M154 89.5h4M158 90.5h5M163 91.5h5M168 92.5h5M173 93.5h5M178 94.5h5M183 95.5h5M188 96.5h5M193 97.5h5M198 98.5h4M202 99.5h3M205 100.5h3M208 101.5h3M211 102.5h2M213 103.5h3M216 104.5h3M219 105.5h3M222 106.5h4M226 107.5h3M229 108.5h3M232 109.5h4M236 110.5h3M239 111.5h3M242 112.5h4M246 113.5h3M249 114.5h3M252 115.5h4M256 116.5h3M259 117.5h4M263 118.5h4M267 119.5h4M271 120.5h4M275 121.5h4M279 122.5h4M283 123.5h5M288 124.5h5M293 125.5h5M298 126.5h5M303 127.5h5M308 128.5h5M313 129.5h5M318 130.5h8M326 131.5h10M336 132.5h8M344 133.5h6M350 134.5h4M354 135.5h3M357 136.5h3M360 137.5h3M363 138.5h3M366 139.5h3M369 140.5h3M372 141.5h4M376 142.5h3M379 143.5h3M382 144.5h4M386 145.5h3M389 146.5h4M393 147.5h4M397 148.5h5M402 149.5h4M406 150.5h4M410 151.5h11M421 152.5h16M437 153.5h14M451 154.5h10M461 155.5h10M471 156.5h18M489 157.5h26M515 158.5h24M539 159.5h27M566 160.5h30M596 161.5h28M624 162.5h15M639 163.5h6M645 164.5h6M651 165.5h7M658 166.5h9M667 167.5h20M687 168.5h17M704 169.5h4M708 170.5h5M713 171.5h4M717 172.5h8M725 173.5h10M735 174.5h8M743 175.5h5M748 176.5h5M753 177.5h5M758 178.5h8M766 179.5h10M776 180.5h10M786 181.5h15M801 182.5h90M891 183.5h20M911 184.5h15M926 185.5h10M936 186.5h8M944 187.5h7M951 188.5h6M957 189.5h7M964 190.5h7M971 191.5h6M977 192.5h9M986 193.5h10M996 194.5h10M1006 195.5h10M1016 196.5h10M1026 197.5h10M1036 198.5h11M1047 199.5h12M1059 200.5h29M1088 201.5h28M1116 202.5h10M1126 203.5h11M1137 204.5h9M1146 205.5h7M1153 206.5h8M1161 207.5h7M1168 208.5h7M1175 209.5h7M1182 210.5h6M1188 211.5h7M1195 212.5h7M1202 213.5h7M1209 214.5h11M1220 215.5h16M1236 216.5h13M1249 217.5h10M1259 218.5h7M1266 219.5h4M1270 220.5h4M1274 221.5h4M1278 222.5h4M1282 223.5h5M1287 224.5h5M1292 225.5h5M1297 226.5h5M1302 227.5h5M1307 228.5h5M1312 229.5h6M1318 230.5h5M1323 231.5h5M1328 232.5h5M1333 233.5h5M1338 234.5h5M1343 235.5h5M1348 236.5h5M1353 237.5h6M1359 238.5h5M1364 239.5h5M1369 240.5h5M1374 241.5h5M1379 242.5h5M1384 243.5h5M1389 244.5h6M1395 245.5h5M1400 246.5h3" fill="none" stroke="#FF0000" stroke-width="1" shape-rendering="crispEdges"/>
<path d="M926 504.5h3M916 505.5h1M920 505.5h3M932 505.5h3M938 505.5h2M910 506.5h1M914 506.5h2M940 506.5h1M944 506.5h1M904 507.5h1M908 507.5h2M945 507.5h2M902 508.5h2M896 509.5h3M950 509.5h3M892 511.5h1M956 511.5h1M890 512.5h2M957 512.5h2M884 514.5h3M880 515.5h1M962 515.5h2M878 516.5h2M964 516.5h1M873 518.5h2M872 519.5h1M968 519.5h2M970 520.5h1M1299 520.5h2M1304 520.5h3M1310 520.5h3M1316 520.5h3M867 521.5h2M1292 521.5h3M1298 521.5h1M1322 521.5h3M866 522.5h1M974 522.5h2M1286 522.5h3M1328 522.5h3M862 523.5h1M976 523.5h1M1180 523.5h1M1184 523.5h3M1190 523.5h3M1280 523.5h3M1334 523.5h3M860 524.5h2M1160 524.5h3M1166 524.5h3M1172 524.5h3M1178 524.5h2M1196 524.5h3M1202 524.5h3M1274 524.5h3M856 525.5h1M980 525.5h2M1154 525.5h3M1208 525.5h3M1214 525.5h3M1262 525.5h3M1268 525.5h3M1340 525.5h2M854 526.5h2M982 526.5h1M1150 526.5h1M1220 526.5h3M1226 526.5h3M1232 526.5h3M1238 526.5h3M1244 526.5h3M1250 526.5h3M1256 526.5h3M1342 526.5h1M1144 527.5h1M1148 527.5h2M1346 527.5h3M80 528.5h3M849 528.5h2M986 528.5h2M1137 528.5h2M1142 528.5h2M1352 528.5h3M74 529.5h3M86 529.5h3M848 529.5h1M988 529.5h1M1136 529.5h1M1358 529.5h3M70 530.5h1M92 530.5h3M578 530.5h3M584 530.5h3M590 530.5h3M596 530.5h3M602 530.5h1M844 530.5h1M1130 530.5h3M1364 530.5h1M68 531.5h2M98 531.5h1M572 531.5h3M603 531.5h2M608 531.5h3M842 531.5h2M992 531.5h2M1118 531.5h3M1124 531.5h3M1365 531.5h2M63 532.5h2M99 532.5h2M566 532.5h3M614 532.5h3M994 532.5h1M1112 532.5h3M1370 532.5h1M62 533.5h1M104 533.5h3M620 533.5h1M838 533.5h1M1108 533.5h1M1371 533.5h2M56 534.5h3M110 534.5h1M326 534.5h3M332 534.5h1M561 534.5h2M621 534.5h2M836 534.5h2M998 534.5h2M1106 534.5h2M1376 534.5h3M111 535.5h2M316 535.5h1M320 535.5h3M333 535.5h2M338 535.5h1M560 535.5h1M626 535.5h1M1000 535.5h1M1101 535.5h2M1382 535.5h1M52 536.5h1M116 536.5h2M296 536.5h3M302 536.5h3M308 536.5h3M314 536.5h2M339 536.5h2M627 536.5h2M831 536.5h2M1100 536.5h1M1383 536.5h2M50 537.5h2M118 537.5h1M272 537.5h3M278 537.5h3M284 537.5h3M290 537.5h3M344 537.5h3M554 537.5h3M632 537.5h3M830 537.5h1M1004 537.5h3M1094 537.5h3M1388 537.5h3M122 538.5h2M254 538.5h3M260 538.5h3M266 538.5h3M350 538.5h1M549 538.5h2M638 538.5h1M826 538.5h1M1077 538.5h2M1082 538.5h3M1088 538.5h3M1394 538.5h3M45 539.5h2M124 539.5h1M242 539.5h3M248 539.5h3M351 539.5h2M548 539.5h1M639 539.5h2M825 539.5h1M1010 539.5h3M1065 539.5h2M1070 539.5h3M1076 539.5h1M1400 539.5h3M44 540.5h1M128 540.5h3M236 540.5h3M543 540.5h2M824 540.5h1M1058 540.5h3M1064 540.5h1M134 541.5h2M232 541.5h1M356 541.5h2M542 541.5h1M644 541.5h2M1016 541.5h3M1054 541.5h1M39 542.5h2M136 542.5h1M230 542.5h2M358 542.5h1M537 542.5h2M646 542.5h1M819 542.5h2M1022 542.5h3M1047 542.5h2M1052 542.5h2M38 543.5h1M140 543.5h3M146 543.5h1M206 543.5h3M212 543.5h3M218 543.5h3M224 543.5h3M536 543.5h1M650 543.5h1M818 543.5h1M1028 543.5h3M1034 543.5h3M1040 543.5h3M1046 543.5h1M147 544.5h2M200 544.5h3M362 544.5h1M531 544.5h2M651 544.5h2M812 544.5h3M33 545.5h2M152 545.5h3M194 545.5h3M363 545.5h2M530 545.5h1M807 545.5h2M32 546.5h1M182 546.5h3M188 546.5h3M656 546.5h1M806 546.5h1M158 547.5h3M178 547.5h1M368 547.5h1M525 547.5h2M657 547.5h2M800 547.5h3M27 548.5h2M164 548.5h3M170 548.5h3M176 548.5h2M369 548.5h2M524 548.5h1M794 548.5h3M26 549.5h1M662 549.5h1M789 549.5h2M518 550.5h3M663 550.5h2M784 550.5h1M788 550.5h1M21 551.5h2M514 551.5h1M782 551.5h2M20 552.5h1M374 552.5h1M512 552.5h2M668 552.5h1M771 552.5h2M776 552.5h3M375 553.5h1M669 553.5h2M740 553.5h3M746 553.5h3M752 553.5h3M758 553.5h3M764 553.5h3M770 553.5h1M14 554.5h3M376 554.5h1M508 554.5h1M674 554.5h1M734 554.5h3M506 555.5h2M675 555.5h2M680 555.5h1M728 555.5h3M10 556.5h1M681 556.5h2M686 556.5h2M722 556.5h3M8 557.5h2M688 557.5h1M692 557.5h3M716 557.5h3M380 558.5h1M501 558.5h2M698 558.5h3M704 558.5h3M710 558.5h3M4 559.5h1M381 559.5h1M500 559.5h1M2 560.5h2M382 560.5h1M496 561.5h1M494 562.5h2M386 564.5h1M489 564.5h2M387 565.5h1M488 565.5h1M388 566.5h1M484 566.5h1M482 567.5h2M392 569.5h1M393 570.5h1M477 570.5h2M394 571.5h1M476 571.5h1M398 574.5h1M471 574.5h2M399 575.5h1M470 575.5h1M400 576.5h1M466 577.5h1M465 578.5h1M404 579.5h1M464 579.5h1M405 580.5h2M459 581.5h2M458 582.5h1M410 583.5h1M411 584.5h1M453 584.5h2M412 585.5h1M452 585.5h1M447 586.5h2M416 587.5h2M446 587.5h1M418 588.5h1M440 588.5h3M422 589.5h1M435 589.5h2M423 590.5h2M428 590.5h3M434 590.5h1" fill="none" stroke="#FF0000" stroke-width="1" shape-rendering="crispEdges"/>
<path d="M882 642.5h3M842 643.5h3M881 643.5h1M885 643.5h4M841 644.5h1M845 644.5h4M879 644.5h2M889 644.5h3M839 645.5h2M849 645.5h4M878 645.5h1M892 645.5h2M838 646.5h1M853 646.5h4M877 646.5h1M894 646.5h2M9 647.5h6M23 647.5h4M837 647.5h1M857 647.5h3M875 647.5h2M896 647.5h2M1105 647.5h3M1250 647.5h1M5 648.5h4M15 648.5h8M27 648.5h1M522 648.5h2M818 648.5h3M835 648.5h2M860 648.5h2M873 648.5h2M898 648.5h11M1101 648.5h4M1108 648.5h2M1249 648.5h1M1251 648.5h2M1279 648.5h4M2 649.5h3M27 649.5h1M521 649.5h1M524 649.5h3M817 649.5h1M821 649.5h4M831 649.5h4M862 649.5h2M871 649.5h2M909 649.5h4M1098 649.5h3M1110 649.5h2M1248 649.5h1M1253 649.5h2M1271 649.5h8M1283 649.5h2M28 650.5h1M521 650.5h1M527 650.5h2M816 650.5h1M825 650.5h6M864 650.5h2M868 650.5h3M913 650.5h2M1096 650.5h2M1112 650.5h2M1247 650.5h1M1255 650.5h1M1265 650.5h6M1285 650.5h2M29 651.5h1M520 651.5h1M529 651.5h3M816 651.5h1M866 651.5h2M915 651.5h1M1094 651.5h2M1114 651.5h2M1245 651.5h2M1256 651.5h2M1261 651.5h4M1287 651.5h1M29 652.5h1M519 652.5h1M532 652.5h3M815 652.5h1M916 652.5h1M1092 652.5h2M1116 652.5h2M1146 652.5h2M1244 652.5h1M1258 652.5h3M1288 652.5h2M30 653.5h1M498 653.5h2M518 653.5h1M535 653.5h2M770 653.5h3M814 653.5h1M917 653.5h1M1090 653.5h2M1118 653.5h2M1144 653.5h2M1148 653.5h2M1170 653.5h5M1243 653.5h1M1290 653.5h1M31 654.5h1M50 654.5h10M305 654.5h4M497 654.5h1M500 654.5h2M518 654.5h1M537 654.5h4M769 654.5h1M773 654.5h4M813 654.5h1M918 654.5h1M1041 654.5h3M1089 654.5h1M1120 654.5h2M1142 654.5h2M1150 654.5h2M1168 654.5h2M1175 654.5h4M1241 654.5h2M1291 654.5h1M31 655.5h1M48 655.5h2M60 655.5h2M301 655.5h4M309 655.5h4M497 655.5h1M502 655.5h2M517 655.5h1M541 655.5h4M769 655.5h1M777 655.5h3M812 655.5h1M918 655.5h1M1039 655.5h2M1044 655.5h2M1088 655.5h1M1122 655.5h1M1140 655.5h2M1152 655.5h2M1166 655.5h2M1179 655.5h1M1202 655.5h2M1217 655.5h3M1237 655.5h4M1292 655.5h1M32 656.5h1M46 656.5h2M62 656.5h2M178 656.5h2M199 656.5h4M234 656.5h2M295 656.5h6M313 656.5h2M496 656.5h1M504 656.5h2M516 656.5h1M545 656.5h4M768 656.5h1M780 656.5h3M812 656.5h1M919 656.5h1M1036 656.5h3M1046 656.5h2M1087 656.5h1M1123 656.5h2M1138 656.5h2M1154 656.5h5M1164 656.5h2M1179 656.5h1M1201 656.5h1M1204 656.5h3M1215 656.5h2M1220 656.5h2M1233 656.5h4M1292 656.5h1M33 657.5h1M44 657.5h2M64 657.5h2M177 657.5h1M180 657.5h3M193 657.5h6M203 657.5h1M233 657.5h1M236 657.5h3M289 657.5h6M315 657.5h1M495 657.5h1M506 657.5h3M515 657.5h1M549 657.5h4M767 657.5h1M783 657.5h2M791 657.5h16M811 657.5h1M920 657.5h1M1034 657.5h2M1048 657.5h2M1086 657.5h1M1125 657.5h2M1136 657.5h2M1159 657.5h5M1180 657.5h1M1200 657.5h1M1207 657.5h2M1212 657.5h3M1222 657.5h2M1231 657.5h2M1293 657.5h1M33 658.5h1M39 658.5h5M66 658.5h2M177 658.5h1M183 658.5h2M189 658.5h4M204 658.5h1M231 658.5h2M239 658.5h2M287 658.5h2M316 658.5h1M463 658.5h4M494 658.5h1M509 658.5h4M515 658.5h1M553 658.5h3M766 658.5h1M785 658.5h6M807 658.5h4M921 658.5h1M1032 658.5h2M1050 658.5h1M1085 658.5h1M1127 658.5h1M1134 658.5h2M1181 658.5h1M1199 658.5h1M1209 658.5h3M1224 658.5h2M1228 658.5h3M1294 658.5h1M34 659.5h5M68 659.5h3M137 659.5h2M176 659.5h1M185 659.5h4M205 659.5h2M230 659.5h1M241 659.5h3M284 659.5h3M317 659.5h2M449 659.5h14M467 659.5h2M494 659.5h1M513 659.5h2M556 659.5h3M569 659.5h14M766 659.5h1M922 659.5h3M1030 659.5h2M1051 659.5h1M1084 659.5h1M1128 659.5h2M1132 659.5h2M1181 659.5h1M1198 659.5h1M1226 659.5h2M1295 659.5h1M1338 659.5h3M71 660.5h2M133 660.5h4M139 660.5h2M175 660.5h1M207 660.5h1M229 660.5h1M244 660.5h2M266 660.5h3M281 660.5h3M319 660.5h1M447 660.5h2M469 660.5h2M493 660.5h1M559 660.5h2M565 660.5h4M583 660.5h5M681 660.5h4M697 660.5h2M765 660.5h1M925 660.5h4M1010 660.5h5M1028 660.5h2M1052 660.5h1M1083 660.5h1M1130 660.5h2M1182 660.5h1M1197 660.5h1M1296 660.5h1M1336 660.5h2M1341 660.5h4M73 661.5h2M130 661.5h3M141 661.5h2M174 661.5h1M208 661.5h1M227 661.5h2M246 661.5h2M264 661.5h2M269 661.5h4M277 661.5h4M320 661.5h1M444 661.5h3M471 661.5h1M492 661.5h1M561 661.5h4M588 661.5h3M677 661.5h4M685 661.5h4M693 661.5h4M699 661.5h1M764 661.5h1M929 661.5h3M1008 661.5h2M1015 661.5h13M1053 661.5h2M1066 661.5h17M1183 661.5h1M1196 661.5h1M1296 661.5h1M1334 661.5h2M1345 661.5h4M75 662.5h1M129 662.5h1M143 662.5h1M174 662.5h1M209 662.5h1M223 662.5h4M248 662.5h2M263 662.5h1M273 662.5h4M321 662.5h1M431 662.5h13M472 662.5h2M491 662.5h1M591 662.5h2M674 662.5h3M689 662.5h4M700 662.5h1M763 662.5h1M932 662.5h2M1006 662.5h2M1055 662.5h1M1064 662.5h2M1183 662.5h1M1195 662.5h1M1297 662.5h1M1332 662.5h2M1349 662.5h4M76 663.5h1M128 663.5h1M144 663.5h2M173 663.5h1M210 663.5h13M250 663.5h3M261 663.5h2M322 663.5h9M418 663.5h13M474 663.5h3M491 663.5h1M593 663.5h2M673 663.5h1M701 663.5h2M722 663.5h3M763 663.5h1M934 663.5h2M994 663.5h5M1004 663.5h2M1056 663.5h1M1062 663.5h2M1184 663.5h1M1193 663.5h2M1298 663.5h3M1329 663.5h3M1353 663.5h2M1399 663.5h4M76 664.5h1M127 664.5h1M146 664.5h5M172 664.5h1M253 664.5h4M259 664.5h2M330 664.5h1M417 664.5h1M477 664.5h4M487 664.5h4M595 664.5h1M671 664.5h2M703 664.5h1M720 664.5h2M725 664.5h4M762 664.5h1M936 664.5h2M992 664.5h2M999 664.5h5M1057 664.5h1M1060 664.5h2M1185 664.5h1M1191 664.5h2M1301 664.5h4M1327 664.5h2M1355 664.5h1M1394 664.5h5M77 665.5h1M125 665.5h2M151 665.5h4M171 665.5h1M257 665.5h2M331 665.5h1M417 665.5h1M481 665.5h6M595 665.5h1M615 665.5h4M670 665.5h1M704 665.5h1M719 665.5h1M729 665.5h6M761 665.5h1M938 665.5h1M970 665.5h1M990 665.5h2M1058 665.5h2M1185 665.5h1M1188 665.5h3M1305 665.5h14M1324 665.5h3M1356 665.5h1M1393 665.5h1M78 666.5h1M124 666.5h1M155 666.5h1M171 666.5h1M331 666.5h1M416 666.5h1M596 666.5h1M610 666.5h5M619 666.5h2M669 666.5h1M705 666.5h1M717 666.5h2M735 666.5h8M761 666.5h1M939 666.5h2M968 666.5h2M971 666.5h2M988 666.5h2M1186 666.5h2M1319 666.5h5M1357 666.5h2M1393 666.5h1M79 667.5h1M123 667.5h1M156 667.5h1M170 667.5h1M332 667.5h1M416 667.5h1M597 667.5h1M609 667.5h1M621 667.5h1M667 667.5h2M706 667.5h5M715 667.5h2M743 667.5h4M760 667.5h1M941 667.5h1M967 667.5h1M973 667.5h1M986 667.5h2M1359 667.5h1M1392 667.5h1M80 668.5h1M122 668.5h1M157 668.5h2M168 668.5h2M332 668.5h1M415 668.5h1M598 668.5h1M608 668.5h1M622 668.5h1M665 668.5h2M711 668.5h4M747 668.5h1M759 668.5h1M942 668.5h1M965 668.5h2M974 668.5h1M984 668.5h2M1360 668.5h1M1391 668.5h1M80 669.5h1M121 669.5h1M159 669.5h1M167 669.5h1M333 669.5h1M415 669.5h1M598 669.5h1M607 669.5h1M623 669.5h2M661 669.5h4M748 669.5h1M758 669.5h1M943 669.5h2M963 669.5h2M975 669.5h2M982 669.5h2M1361 669.5h1M1391 669.5h1M81 670.5h1M120 670.5h1M160 670.5h1M165 670.5h2M333 670.5h1M414 670.5h1M599 670.5h1M606 670.5h1M625 670.5h1M658 670.5h3M749 670.5h1M758 670.5h1M945 670.5h1M962 670.5h1M977 670.5h1M980 670.5h2M1362 670.5h3M1390 670.5h1M82 671.5h2M105 671.5h3M119 671.5h1M161 671.5h1M163 671.5h2M334 671.5h1M414 671.5h1M600 671.5h1M605 671.5h1M626 671.5h5M657 671.5h1M750 671.5h1M757 671.5h1M946 671.5h2M960 671.5h2M978 671.5h2M1365 671.5h4M1389 671.5h1M84 672.5h3M103 672.5h2M108 672.5h2M117 672.5h2M162 672.5h1M334 672.5h1M413 672.5h1M601 672.5h1M604 672.5h1M631 672.5h4M656 672.5h1M751 672.5h1M756 672.5h1M948 672.5h3M958 672.5h2M1369 672.5h4M1389 672.5h1M87 673.5h2M100 673.5h3M110 673.5h2M116 673.5h1M334 673.5h1M413 673.5h1M601 673.5h1M603 673.5h1M635 673.5h1M655 673.5h1M752 673.5h1M755 673.5h1M951 673.5h2M956 673.5h2M1373 673.5h4M1388 673.5h1M89 674.5h11M112 674.5h2M115 674.5h1M335 674.5h1M412 674.5h1M602 674.5h1M636 674.5h1M654 674.5h1M753 674.5h1M755 674.5h1M953 674.5h3M1377 674.5h4M1387 674.5h1M114 675.5h1M335 675.5h1M412 675.5h1M636 675.5h1M654 675.5h1M754 675.5h1M1381 675.5h4M1387 675.5h1M336 676.5h1M411 676.5h1M637 676.5h1M653 676.5h1M1385 676.5h2M336 677.5h1M393 677.5h3M411 677.5h1M638 677.5h1M652 677.5h1M337 678.5h1M391 678.5h2M396 678.5h2M410 678.5h1M639 678.5h1M651 678.5h1M337 679.5h1M388 679.5h3M398 679.5h2M409 679.5h2M640 679.5h1M649 679.5h2M338 680.5h1M386 680.5h2M400 680.5h2M405 680.5h4M640 680.5h1M647 680.5h2M338 681.5h5M385 681.5h1M402 681.5h3M641 681.5h1M644 681.5h3M343 682.5h12M384 682.5h1M642 682.5h2M355 683.5h1M383 683.5h1M356 684.5h1M382 684.5h1M356 685.5h1M381 685.5h1M357 686.5h1M380 686.5h1M358 687.5h1M379 687.5h1M359 688.5h1M370 688.5h9M360 689.5h1M368 689.5h2M360 690.5h1M366 690.5h2M361 691.5h1M364 691.5h2M362 692.5h2" fill="none" stroke="#1E90FF" stroke-width="1" shape-rendering="crispEdges"/>
<g shape-rendering="crispEdges">
<rect x="2" y="90" width="1423" height="2" fill="#FF0000"/>
<rect x="2" y="214" width="1423" height="2" fill="#FF0000"/>
<rect x="2" y="329" width="1423" height="2" fill="#32CD32"/>
<rect x="2" y="422" width="1423" height="2" fill="#4169E1"/>
<rect x="1" y="4" width="1425" height="1" fill="#000"/>
<rect x="1" y="492" width="1425" height="1" fill="#000"/>
<rect x="1" y="4" width="1" height="489" fill="#000"/>
<rect x="1425" y="4" width="1" height="489" fill="#000"/>
<rect x="1" y="494" width="1425" height="1" fill="#000"/>
<rect x="1" y="602" width="1425" height="1" fill="#000"/>
<rect x="1" y="494" width="1" height="109" fill="#000"/>
<rect x="1425" y="494" width="1" height="109" fill="#000"/>
<rect x="1" y="604" width="1425" height="1" fill="#000"/>
<rect x="1" y="712" width="1425" height="1" fill="#000"/>
<rect x="1" y="604" width="1" height="109" fill="#000"/>
<rect x="1425" y="604" width="1" height="109" fill="#000"/>
<rect x="1426" y="27" width="2" height="1" fill="#000"/>
<rect x="1426" y="60" width="2" height="1" fill="#000"/>
<rect x="1426" y="93" width="2" height="1" fill="#000"/>
<rect x="1426" y="126" width="2" height="1" fill="#000"/>
<rect x="1426" y="159" width="2" height="1" fill="#000"/>
<rect x="1426" y="192" width="2" height="1" fill="#000"/>
<rect x="1426" y="225" width="2" height="1" fill="#000"/>
<rect x="1426" y="258" width="2" height="1" fill="#000"/>
<rect x="1426" y="291" width="2" height="1" fill="#000"/>
<rect x="1426" y="324" width="2" height="1" fill="#000"/>
<rect x="1426" y="357" width="2" height="1" fill="#000"/>
<rect x="1426" y="390" width="2" height="1" fill="#000"/>
<rect x="1426" y="423" width="2" height="1" fill="#000"/>
<rect x="1426" y="456" width="2" height="1" fill="#000"/>
<rect x="1426" y="489" width="2" height="1" fill="#000"/>
<rect x="1426" y="531" width="1" height="1" fill="#000"/>
<rect x="1426" y="495" width="1" height="1" fill="#000"/>
<rect x="1426" y="601" width="1" height="1" fill="#000"/>
<rect x="1426" y="606" width="1" height="1" fill="#000"/>
<rect x="1426" y="711" width="1" height="1" fill="#000"/>
<rect x="1425" y="637" width="1" height="1" fill="#fff"/>
<rect x="1425" y="680" width="1" height="1" fill="#fff"/>
<rect x="2" y="713" width="1" height="3" fill="#000"/>
<rect x="66" y="713" width="1" height="3" fill="#000"/>
<rect x="130" y="713" width="1" height="3" fill="#000"/>
<rect x="194" y="713" width="1" height="3" fill="#000"/>
<rect x="258" y="713" width="1" height="3" fill="#000"/>
<rect x="322" y="713" width="1" height="3" fill="#000"/>
<rect x="386" y="713" width="1" height="3" fill="#000"/>
<rect x="450" y="713" width="1" height="3" fill="#000"/>
<rect x="514" y="713" width="1" height="3" fill="#000"/>
<rect x="578" y="713" width="1" height="3" fill="#000"/>
<rect x="642" y="713" width="1" height="3" fill="#000"/>
<rect x="706" y="713" width="1" height="3" fill="#000"/>
<rect x="770" y="713" width="1" height="3" fill="#000"/>
<rect x="834" y="713" width="1" height="3" fill="#000"/>
<rect x="898" y="713" width="1" height="3" fill="#000"/>
<rect x="962" y="713" width="1" height="3" fill="#000"/>
<rect x="1026" y="713" width="1" height="3" fill="#000"/>
<rect x="1090" y="713" width="1" height="3" fill="#000"/>
<rect x="1154" y="713" width="1" height="3" fill="#000"/>
<rect x="1218" y="713" width="1" height="3" fill="#000"/>
<rect x="1282" y="713" width="1" height="3" fill="#000"/>
<rect x="1346" y="713" width="1" height="3" fill="#000"/>
</g>
<text x="1430.5" y="31" font-size="10" fill="#000" text-anchor="start" textLength="28.5" lengthAdjust="spacingAndGlyphs">5243.0</text>
<text x="1430.5" y="64" font-size="10" fill="#000" text-anchor="start" textLength="28.5" lengthAdjust="spacingAndGlyphs">5200.0</text>
<text x="1430.5" y="97" font-size="10" fill="#000" text-anchor="start" textLength="28.5" lengthAdjust="spacingAndGlyphs">5157.0</text>
<text x="1430.5" y="130" font-size="10" fill="#000" text-anchor="start" textLength="28.5" lengthAdjust="spacingAndGlyphs">5115.0</text>
<text x="1430.5" y="163" font-size="10" fill="#000" text-anchor="start" textLength="28.5" lengthAdjust="spacingAndGlyphs">5072.0</text>
<text x="1430.5" y="196" font-size="10" fill="#000" text-anchor="start" textLength="28.5" lengthAdjust="spacingAndGlyphs">5029.0</text>
<text x="1430.5" y="229" font-size="10" fill="#000" text-anchor="start" textLength="28.5" lengthAdjust="spacingAndGlyphs">4986.0</text>
<text x="1430.5" y="262" font-size="10" fill="#000" text-anchor="start" textLength="28.5" lengthAdjust="spacingAndGlyphs">4944.0</text>
<text x="1430.5" y="295" font-size="10" fill="#000" text-anchor="start" textLength="28.5" lengthAdjust="spacingAndGlyphs">4901.0</text>
<text x="1430.5" y="328" font-size="10" fill="#000" text-anchor="start" textLength="28.5" lengthAdjust="spacingAndGlyphs">4858.0</text>
<text x="1430.5" y="361" font-size="10" fill="#000" text-anchor="start" textLength="28.5" lengthAdjust="spacingAndGlyphs">4815.0</text>
<text x="1430.5" y="394" font-size="10" fill="#000" text-anchor="start" textLength="28.5" lengthAdjust="spacingAndGlyphs">4772.0</text>
<text x="1430.5" y="427" font-size="10" fill="#000" text-anchor="start" textLength="28.5" lengthAdjust="spacingAndGlyphs">4729.0</text>
<text x="1430.5" y="460" font-size="10" fill="#000" text-anchor="start" textLength="28.5" lengthAdjust="spacingAndGlyphs">4687.0</text>
<text x="1430.5" y="493" font-size="10" fill="#000" text-anchor="start" textLength="28.5" lengthAdjust="spacingAndGlyphs">4644.0</text>
<g shape-rendering="crispEdges">
<rect x="1427" y="85" width="36" height="11" fill="#FF0000"/>
<rect x="1427" y="209" width="36" height="11" fill="#FF0000"/>
<rect x="1427" y="316" width="36" height="11" fill="#000"/>
<rect x="1427" y="324" width="36" height="11" fill="#32CD32"/>
<rect x="1427" y="417" width="36" height="11" fill="#4169E1"/>
</g>
<text x="1430.5" y="94.3" font-size="10" fill="#fff" text-anchor="start" textLength="28.5" lengthAdjust="spacingAndGlyphs">5160.0</text>
<text x="1430.5" y="218.3" font-size="10" fill="#fff" text-anchor="start" textLength="28.5" lengthAdjust="spacingAndGlyphs">5000.0</text>
<clipPath id="c1"><rect x="1427" y="316" width="36" height="8"/></clipPath>
<text x="1430.5" y="325.3" font-size="10" fill="#fff" clip-path="url(#c1)" textLength="28.5" lengthAdjust="spacingAndGlyphs">4862.0</text>
<text x="1430.5" y="333.3" font-size="10" fill="#fff" text-anchor="start" textLength="28.5" lengthAdjust="spacingAndGlyphs">4850.0</text>
<text x="1430.5" y="426.3" font-size="10" fill="#fff" text-anchor="start" textLength="28.5" lengthAdjust="spacingAndGlyphs">4730.0</text>
<text x="1429.5" y="505.3" font-size="10" fill="#000" text-anchor="start" textLength="17.8" lengthAdjust="spacingAndGlyphs">48.5</text>
<text x="1429.5" y="535" font-size="10" fill="#000" text-anchor="start" textLength="17.8" lengthAdjust="spacingAndGlyphs">0.00</text>
<text x="1429.5" y="599.5" font-size="10" fill="#000" text-anchor="start" textLength="24.8" lengthAdjust="spacingAndGlyphs">-97.13</text>
<text x="1429" y="615.3" font-size="10" fill="#000" text-anchor="start" textLength="15.5" lengthAdjust="spacingAndGlyphs">100</text>
<text x="1429.5" y="641" font-size="10" fill="#000" text-anchor="start" textLength="9.5" lengthAdjust="spacingAndGlyphs">70</text>
<text x="1429.5" y="684" font-size="10" fill="#000" text-anchor="start" textLength="9.5" lengthAdjust="spacingAndGlyphs">30</text>
<text x="1429.5" y="709.2" font-size="10" fill="#000" text-anchor="start">0</text>
<path d="M5 11h7.4l-3.7 4z" fill="#000"/>
<text x="17" y="16" font-size="10" fill="#000" text-anchor="start" textLength="64.8" lengthAdjust="spacingAndGlyphs">CHINA300-,H4</text>
<text x="87.5" y="16" font-size="10" fill="#000" text-anchor="start" textLength="121" lengthAdjust="spacingAndGlyphs">4860.3 4874.2 4854.0 4862.0</text>
<text x="5.8" y="507" font-size="10" fill="#000" text-anchor="start" textLength="124" lengthAdjust="spacingAndGlyphs">MACD(12,26,9) -17.72 -11.03</text>
<text x="5.8" y="617" font-size="10" fill="#000" text-anchor="start" textLength="68" lengthAdjust="spacingAndGlyphs">RSI(14) 45.4142</text>
<text x="0.8" y="725" font-size="10" fill="#000" text-anchor="start" textLength="51" lengthAdjust="spacingAndGlyphs">25 Jun 2021</text>
<text x="64.8" y="725" font-size="10" fill="#000" text-anchor="start" textLength="45" lengthAdjust="spacingAndGlyphs">1 Jul 01:30</text>
<text x="128.8" y="725" font-size="10" fill="#000" text-anchor="start" textLength="45" lengthAdjust="spacingAndGlyphs">7 Jul 01:30</text>
<text x="192.8" y="725" font-size="10" fill="#000" text-anchor="start" textLength="49.6" lengthAdjust="spacingAndGlyphs">13 Jul 01:30</text>
<text x="256.8" y="725" font-size="10" fill="#000" text-anchor="start" textLength="49.6" lengthAdjust="spacingAndGlyphs">19 Jul 01:30</text>
<text x="320.8" y="725" font-size="10" fill="#000" text-anchor="start" textLength="49.6" lengthAdjust="spacingAndGlyphs">23 Jul 01:30</text>
<text x="384.8" y="725" font-size="10" fill="#000" text-anchor="start" textLength="49.9" lengthAdjust="spacingAndGlyphs">29 Jul 01:30</text>
<text x="448.8" y="725" font-size="10" fill="#000" text-anchor="start" textLength="51.7" lengthAdjust="spacingAndGlyphs">4 Aug 01:30</text>
<text x="512.8" y="725" font-size="10" fill="#000" text-anchor="start" textLength="56.6" lengthAdjust="spacingAndGlyphs">10 Aug 01:30</text>
<text x="576.8" y="725" font-size="10" fill="#000" text-anchor="start" textLength="56.2" lengthAdjust="spacingAndGlyphs">16 Aug 01:30</text>
<text x="640.8" y="725" font-size="10" fill="#000" text-anchor="start" textLength="56.6" lengthAdjust="spacingAndGlyphs">20 Aug 01:30</text>
<text x="704.8" y="725" font-size="10" fill="#000" text-anchor="start" textLength="56.5" lengthAdjust="spacingAndGlyphs">26 Aug 01:30</text>
<text x="768.8" y="725" font-size="10" fill="#000" text-anchor="start" textLength="50.5" lengthAdjust="spacingAndGlyphs">1 Sep 01:30</text>
<text x="832.8" y="725" font-size="10" fill="#000" text-anchor="start" textLength="50.7" lengthAdjust="spacingAndGlyphs">7 Sep 01:30</text>
<text x="896.8" y="725" font-size="10" fill="#000" text-anchor="start" textLength="55.4" lengthAdjust="spacingAndGlyphs">13 Sep 01:30</text>
<text x="960.8" y="725" font-size="10" fill="#000" text-anchor="start" textLength="55.5" lengthAdjust="spacingAndGlyphs">17 Sep 01:30</text>
<text x="1024.8" y="725" font-size="10" fill="#000" text-anchor="start" textLength="55.5" lengthAdjust="spacingAndGlyphs">27 Sep 01:30</text>
<text x="1088.8" y="725" font-size="10" fill="#000" text-anchor="start" textLength="49.7" lengthAdjust="spacingAndGlyphs">8 Oct 01:30</text>
<text x="1152.8" y="725" font-size="10" fill="#000" text-anchor="start" textLength="54.6" lengthAdjust="spacingAndGlyphs">14 Oct 01:30</text>
<text x="1216.8" y="725" font-size="10" fill="#000" text-anchor="start" textLength="54.7" lengthAdjust="spacingAndGlyphs">20 Oct 01:30</text>
<text x="1280.8" y="725" font-size="10" fill="#000" text-anchor="start" textLength="54.3" lengthAdjust="spacingAndGlyphs">26 Oct 01:30</text>
<text x="1344.8" y="725" font-size="10" fill="#000" text-anchor="start" textLength="52.2" lengthAdjust="spacingAndGlyphs">1 Nov 01:30</text>
<text x="1093" y="160.5" font-size="36" fill="#ED1C24" text-anchor="start" textLength="178" lengthAdjust="spacingAndGlyphs" style="font-family:'Liberation Sans','Noto Sans CJK SC',sans-serif">多空转折点</text>
<text x="1271.5" y="158.4" font-size="38.5" fill="#ED1C24" text-anchor="start" textLength="85" lengthAdjust="spacingAndGlyphs" style="font-family:'Liberation Sans','Noto Sans CJK SC',sans-serif">4850</text>
</svg></body></html>
